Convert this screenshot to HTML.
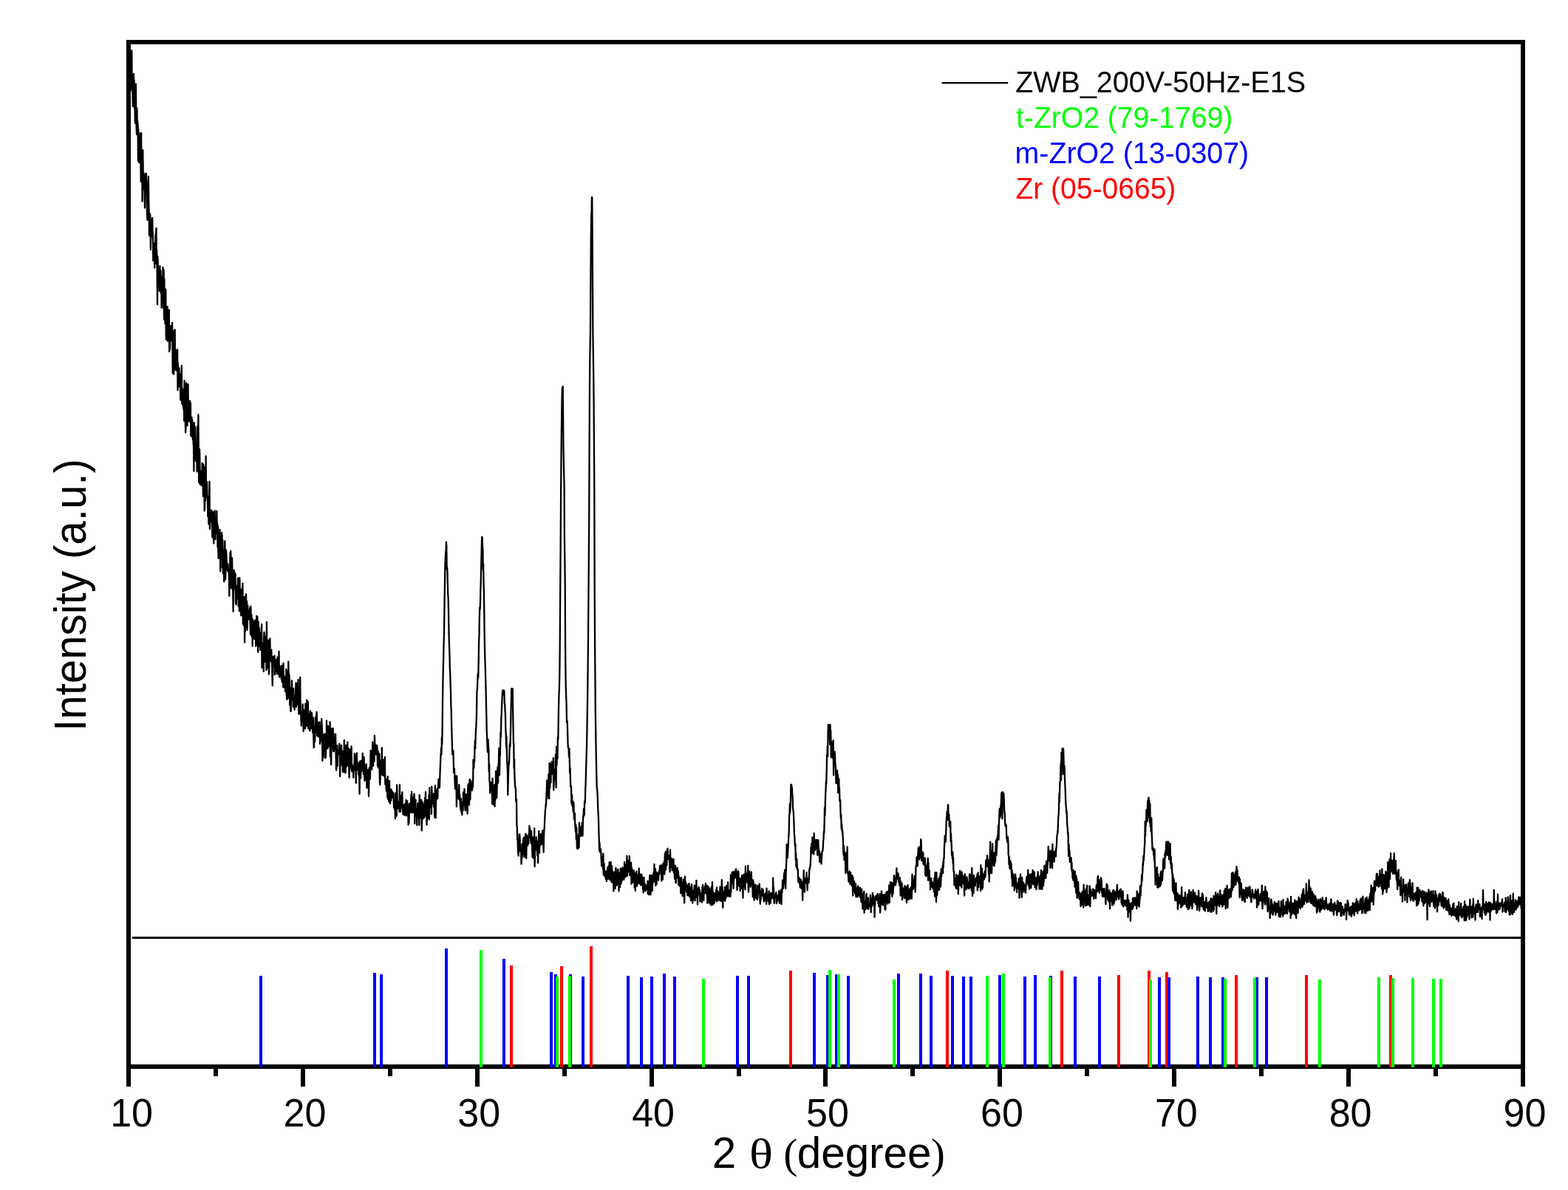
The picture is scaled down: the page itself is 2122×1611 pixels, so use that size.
<!DOCTYPE html>
<html lang="en">
<head>
<meta charset="utf-8">
<title>XRD pattern - ZWB_200V-50Hz-E1S</title>
<style>
html, body { margin: 0; padding: 0; background: #ffffff; }
body { width: 2122px; height: 1611px; overflow: hidden; }
svg { display: block; }
text { font-family: "Liberation Sans", Arial, Helvetica, sans-serif; }
text.sym { font-family: "Liberation Serif", "Times New Roman", serif; }
</style>
</head>
<body>
<svg width="2122" height="1611" viewBox="0 0 2122 1611" role="img" aria-label="XRD pattern of ZWB_200V-50Hz-E1S with reference patterns">
<rect x="0" y="0" width="2122" height="1611" fill="#ffffff"/>
<defs><clipPath id="plotclip"><rect x="174.0" y="57.0" width="1887.0" height="1392.0"/></clipPath></defs>
<g clip-path="url(#plotclip)">
<path id="trace" fill="none" stroke="#000000" stroke-width="2.3" stroke-linejoin="round" stroke-linecap="butt" shape-rendering="auto" d="M174.1 68.5L174.5 73.3L174.9 68.5L175.2 68.5L175.6 72.1L176.0 68.5L176.4 91.9L176.7 122.9L177.1 89.3L177.5 91.0L177.9 118.6L178.3 68.5L178.6 119.0L179.0 101.0L179.4 124.3
L179.8 143.9L180.1 104.0L180.5 127.0L180.9 99.9L181.3 116.9L181.6 108.7L182.0 147.2L182.4 128.4L182.8 165.6L183.2 166.7L183.5 162.6L183.9 113.7L184.3 161.1L184.7 175.3L185.0 182.0
L185.4 146.6L185.8 173.7L186.2 164.3L186.6 170.6L186.9 217.5L187.3 175.1L187.7 195.9L188.1 220.0L188.4 186.9L188.8 200.4L189.2 207.8L189.6 208.9L189.9 180.4L190.3 213.6L190.7 246.1
L191.1 180.2L191.5 239.0L191.8 224.0L192.2 208.7L192.6 272.7L193.0 246.2L193.3 203.2L193.7 235.2L194.1 249.2L194.5 234.1L194.9 256.6L195.2 241.9L195.6 261.2L196.0 281.4L196.4 235.7
L196.7 258.3L197.1 245.8L197.5 261.8L197.9 234.9L198.3 251.3L198.6 262.6L199.0 289.8L199.4 298.0L199.8 245.6L200.1 260.1L200.5 294.9L200.9 238.8L201.3 275.5L201.6 286.3L202.0 319.1
L202.4 309.1L202.8 289.1L203.2 290.8L203.5 296.0L203.9 338.0L204.3 297.3L204.7 302.7L205.0 319.8L205.4 311.9L205.8 312.7L206.2 295.0L206.6 321.9L206.9 314.9L207.3 352.9L207.7 344.0
L208.1 331.5L208.4 349.3L208.8 329.5L209.2 362.6L209.6 341.7L210.0 357.1L210.3 318.2L210.7 356.7L211.1 314.3L211.5 309.0L211.8 349.4L212.2 338.6L212.6 364.3L213.0 412.3L213.3 347.0
L213.7 353.8L214.1 374.2L214.5 382.7L214.9 370.3L215.2 371.8L215.6 393.9L216.0 392.1L216.4 360.2L216.7 383.2L217.1 387.8L217.5 366.1L217.9 397.0L218.3 374.6L218.6 416.7L219.0 401.7
L219.4 401.5L219.8 388.7L220.1 401.0L220.5 362.0L220.9 382.9L221.3 417.5L221.6 365.2L222.0 431.9L222.4 377.4L222.8 433.8L223.2 400.9L223.5 438.1L223.9 426.0L224.3 391.7L224.7 454.0
L225.0 460.0L225.4 429.2L225.8 426.6L226.2 430.9L226.6 415.1L226.9 461.8L227.3 428.2L227.7 440.6L228.1 426.4L228.4 431.8L228.8 419.6L229.2 475.9L229.6 447.4L230.0 473.2L230.3 454.5
L230.7 441.1L231.1 450.8L231.5 447.5L231.8 461.4L232.2 455.0L232.6 458.3L233.0 437.0L233.3 451.0L233.7 505.2L234.1 457.3L234.5 450.9L234.9 482.2L235.2 506.7L235.6 447.6L236.0 475.7
L236.4 468.5L236.7 446.3L237.1 500.8L237.5 486.4L237.9 490.1L238.3 474.4L238.6 501.5L239.0 482.3L239.4 492.3L239.8 473.7L240.1 473.2L240.5 528.3L240.9 491.4L241.3 509.8L241.7 504.7
L242.0 497.8L242.4 498.1L242.8 523.5L243.2 505.8L243.5 510.6L243.9 515.9L244.3 541.5L244.7 532.8L245.0 528.3L245.4 510.4L245.8 495.2L246.2 545.0L246.6 547.0L246.9 525.9L247.3 541.7
L247.7 548.2L248.1 550.9L248.4 554.5L248.8 528.0L249.2 569.9L249.6 515.2L250.0 559.9L250.3 554.1L250.7 563.5L251.1 585.6L251.5 579.2L251.8 527.6L252.2 518.3L252.6 570.7L253.0 535.4
L253.3 557.3L253.7 576.2L254.1 527.9L254.5 520.2L254.9 569.6L255.2 567.0L255.6 562.8L256.0 570.2L256.4 553.9L256.7 542.6L257.1 571.2L257.5 556.8L257.9 545.2L258.3 589.6L258.6 580.0
L259.0 591.0L259.4 565.0L259.8 573.3L260.1 568.2L260.5 572.1L260.9 595.2L261.3 577.6L261.7 601.7L262.0 603.0L262.4 637.8L262.8 572.3L263.2 618.7L263.5 601.2L263.9 604.4L264.3 578.0
L264.7 599.0L265.0 624.1L265.4 609.7L265.8 614.5L266.2 608.9L266.6 638.6L266.9 617.4L267.3 576.8L267.7 607.7L268.1 584.6L268.4 561.5L268.8 615.7L269.2 653.3L269.6 630.1L270.0 608.2
L270.3 614.3L270.7 655.7L271.1 638.6L271.5 638.1L271.8 637.8L272.2 641.1L272.6 657.3L273.0 654.1L273.4 649.2L273.7 626.8L274.1 657.9L274.5 636.7L274.9 672.1L275.2 628.7L275.6 651.8
L276.0 655.8L276.4 632.4L276.7 691.5L277.1 688.1L277.5 653.3L277.9 678.1L278.3 672.2L278.6 617.4L279.0 672.7L279.4 668.4L279.8 672.6L280.1 652.3L280.5 668.9L280.9 672.1L281.3 699.1
L281.7 684.6L282.0 679.7L282.4 709.7L282.8 672.3L283.2 676.9L283.5 651.8L283.9 716.1L284.3 706.3L284.7 706.8L285.0 703.6L285.4 694.6L285.8 698.0L286.2 690.7L286.6 693.0L286.9 699.2
L287.3 727.3L287.7 711.1L288.1 701.2L288.4 693.0L288.8 693.3L289.2 735.7L289.6 717.0L290.0 710.3L290.3 704.0L290.7 691.5L291.1 711.8L291.5 730.2L291.8 708.5L292.2 712.8L292.6 714.3
L293.0 721.6L293.4 692.0L293.7 717.9L294.1 708.0L294.5 740.7L294.9 712.1L295.2 737.7L295.6 756.0L296.0 724.2L296.4 720.2L296.7 735.7L297.1 733.5L297.5 717.0L297.9 744.3L298.3 773.4
L298.6 733.9L299.0 736.1L299.4 722.3L299.8 747.8L300.1 721.1L300.5 724.8L300.9 768.5L301.3 730.9L301.7 767.3L302.0 776.4L302.4 755.1L302.8 761.5L303.2 787.4L303.5 750.5L303.9 744.7
L304.3 732.5L304.7 758.2L305.1 784.7L305.4 776.7L305.8 744.4L306.2 747.0L306.6 754.3L306.9 769.4L307.3 761.8L307.7 770.3L308.1 772.9L308.4 763.6L308.8 769.2L309.2 774.6L309.6 770.6
L310.0 781.9L310.3 806.8L310.7 785.6L311.1 777.4L311.5 748.2L311.8 785.3L312.2 745.9L312.6 756.3L313.0 796.5L313.4 795.0L313.7 781.2L314.1 755.4L314.5 779.5L314.9 775.3L315.2 798.9
L315.6 827.8L316.0 793.7L316.4 777.7L316.7 772.0L317.1 792.1L317.5 791.0L317.9 775.4L318.3 798.1L318.6 777.4L319.0 817.0L319.4 817.1L319.8 818.5L320.1 792.9L320.5 810.7L320.9 800.7
L321.3 797.3L321.7 799.1L322.0 783.8L322.4 782.3L322.8 821.1L323.2 805.4L323.5 813.3L323.9 827.4L324.3 782.3L324.7 799.2L325.1 816.3L325.4 820.8L325.8 808.8L326.2 833.3L326.6 820.5
L326.9 797.6L327.3 803.2L327.7 833.2L328.1 828.3L328.4 789.8L328.8 844.8L329.2 833.2L329.6 846.5L330.0 818.6L330.3 821.0L330.7 808.0L331.1 869.7L331.5 825.6L331.8 855.6L332.2 819.5
L332.6 833.7L333.0 804.3L333.4 826.4L333.7 849.8L334.1 813.8L334.5 852.9L334.9 841.6L335.2 819.7L335.6 829.5L336.0 831.0L336.4 838.5L336.8 831.4L337.1 827.4L337.5 836.8L337.9 825.8
L338.3 822.3L338.6 843.4L339.0 859.3L339.4 820.8L339.8 846.6L340.1 836.7L340.5 832.2L340.9 862.7L341.3 841.2L341.7 874.7L342.0 838.5L342.4 858.2L342.8 849.0L343.2 841.3L343.5 863.7
L343.9 852.5L344.3 865.4L344.7 855.7L345.1 839.7L345.4 856.3L345.8 859.5L346.2 874.8L346.6 845.6L346.9 860.2L347.3 834.0L347.7 872.8L348.1 845.7L348.4 834.9L348.8 863.5L349.2 882.9
L349.6 841.6L350.0 849.3L350.3 855.5L350.7 850.1L351.1 874.8L351.5 856.6L351.8 858.7L352.2 880.1L352.6 859.5L353.0 879.1L353.4 857.5L353.7 854.4L354.1 845.2L354.5 904.3L354.9 870.6
L355.2 880.1L355.6 876.5L356.0 880.2L356.4 879.1L356.8 909.0L357.1 863.3L357.5 855.9L357.9 865.1L358.3 860.7L358.6 894.0L359.0 895.8L359.4 868.6L359.8 862.5L360.1 879.4L360.5 907.3
L360.9 842.2L361.3 895.1L361.7 870.7L362.0 904.3L362.4 872.0L362.8 885.0L363.2 866.7L363.5 875.5L363.9 912.8L364.3 904.7L364.7 886.4L365.1 879.7L365.4 864.5L365.8 888.4L366.2 894.6
L366.6 894.4L366.9 894.9L367.3 879.7L367.7 896.5L368.1 897.6L368.5 918.6L368.8 928.1L369.2 897.9L369.6 888.9L370.0 900.2L370.3 892.5L370.7 891.1L371.1 902.2L371.5 887.7L371.8 913.5
L372.2 903.3L372.6 909.3L373.0 903.3L373.4 895.6L373.7 892.9L374.1 904.3L374.5 900.1L374.9 912.6L375.2 909.6L375.6 889.6L376.0 911.9L376.4 891.1L376.8 902.7L377.1 908.2L377.5 881.9
L377.9 915.2L378.3 916.7L378.6 912.6L379.0 909.2L379.4 910.6L379.8 902.1L380.1 913.3L380.5 909.6L380.9 919.9L381.3 901.1L381.7 923.2L382.0 922.4L382.4 918.7L382.8 914.9L383.2 930.3
L383.5 897.8L383.9 930.0L384.3 927.4L384.7 928.6L385.1 930.6L385.4 915.8L385.8 922.2L386.2 936.1L386.6 933.6L386.9 930.9L387.3 906.0L387.7 936.9L388.1 946.8L388.5 945.0L388.8 934.1
L389.2 908.3L389.6 945.7L390.0 930.2L390.3 895.7L390.7 939.1L391.1 912.2L391.5 915.6L391.8 925.9L392.2 954.5L392.6 930.9L393.0 940.9L393.4 963.1L393.7 961.4L394.1 937.1L394.5 935.7
L394.9 921.4L395.2 930.2L395.6 947.1L396.0 947.2L396.4 943.6L396.8 957.0L397.1 931.9L397.5 942.8L397.9 954.8L398.3 953.2L398.6 960.8L399.0 951.6L399.4 942.0L399.8 952.2L400.2 933.1
L400.5 924.5L400.9 957.0L401.3 948.4L401.7 954.2L402.0 925.9L402.4 945.6L402.8 942.8L403.2 939.5L403.5 920.2L403.9 948.2L404.3 966.4L404.7 959.5L405.1 946.0L405.4 954.9L405.8 966.5
L406.2 916.9L406.6 955.0L406.9 965.0L407.3 967.5L407.7 982.5L408.1 975.0L408.5 963.9L408.8 964.2L409.2 971.6L409.6 953.4L410.0 961.0L410.3 974.9L410.7 990.2L411.1 960.9L411.5 963.0
L411.8 967.0L412.2 983.6L412.6 964.8L413.0 986.4L413.4 952.7L413.7 964.2L414.1 964.5L414.5 978.8L414.9 983.0L415.2 947.7L415.6 956.6L416.0 974.6L416.4 961.2L416.8 949.7L417.1 985.9
L417.5 978.8L417.9 979.3L418.3 966.3L418.6 987.7L419.0 970.6L419.4 989.6L419.8 962.3L420.2 963.6L420.5 978.8L420.9 966.7L421.3 986.3L421.7 981.0L422.0 965.2L422.4 979.4L422.8 974.1
L423.2 992.0L423.5 971.2L423.9 974.4L424.3 997.5L424.7 1012.1L425.1 1009.3L425.4 983.2L425.8 985.8L426.2 1004.3L426.6 982.1L426.9 971.0L427.3 986.4L427.7 991.4L428.1 974.4
L428.5 963.8L428.8 967.1L429.2 996.2L429.6 977.3L430.0 986.2L430.3 991.5L430.7 997.4L431.1 985.0L431.5 996.7L431.9 978.4L432.2 986.0L432.6 977.5L433.0 1007.1L433.4 991.9
L433.7 982.8L434.1 988.5L434.5 990.7L434.9 1003.6L435.2 973.1L435.6 981.1L436.0 990.4L436.4 1029.9L436.8 1009.2L437.1 995.4L437.5 1006.8L437.9 1025.3L438.3 995.1L438.6 993.7
L439.0 1015.2L439.4 1006.1L439.8 1008.9L440.2 993.6L440.5 1026.4L440.9 1024.0L441.3 1009.2L441.7 1011.2L442.0 975.7L442.4 1011.5L442.8 1000.9L443.2 1009.6L443.5 1013.3L443.9 1000.2
L444.3 982.8L444.7 1010.4L445.1 996.2L445.4 1002.1L445.8 998.9L446.2 1002.7L446.6 977.3L446.9 1024.1L447.3 1011.8L447.7 1023.5L448.1 1035.3L448.5 1010.0L448.8 986.5L449.2 998.8
L449.6 995.1L450.0 1004.8L450.3 1012.8L450.7 986.0L451.1 1017.0L451.5 993.2L451.9 1017.2L452.2 1012.3L452.6 1010.0L453.0 1013.6L453.4 1007.9L453.7 1007.3L454.1 993.8L454.5 1015.7
L454.9 1040.4L455.2 1042.5L455.6 1034.3L456.0 1026.7L456.4 1009.2L456.8 1037.0L457.1 1018.0L457.5 1018.2L457.9 1015.7L458.3 1021.0L458.6 1014.6L459.0 1019.5L459.4 1007.0
L459.8 1016.5L460.2 1051.0L460.5 1021.2L460.9 1019.3L461.3 1029.6L461.7 1032.2L462.0 1009.2L462.4 1021.2L462.8 1035.9L463.2 1028.0L463.6 1026.4L463.9 1045.1L464.3 1016.9
L464.7 1027.0L465.1 1019.6L465.4 1045.6L465.8 1002.1L466.2 1018.8L466.6 1020.9L466.9 1036.4L467.3 1036.0L467.7 1046.3L468.1 1009.0L468.5 1038.8L468.8 1025.9L469.2 1021.5
L469.6 1037.1L470.0 1018.9L470.3 1004.6L470.7 1026.5L471.1 1012.6L471.5 1023.7L471.9 1036.8L472.2 1036.4L472.6 1052.8L473.0 1030.6L473.4 1014.1L473.7 1024.2L474.1 1022.4
L474.5 1019.0L474.9 1040.1L475.2 1026.8L475.6 1010.4L476.0 1044.2L476.4 1034.4L476.8 1040.5L477.1 1037.7L477.5 1044.5L477.9 1037.4L478.3 1052.7L478.6 1042.8L479.0 1042.7
L479.4 1043.2L479.8 1020.2L480.2 1036.6L480.5 1035.6L480.9 1041.7L481.3 1022.5L481.7 1060.0L482.0 1041.2L482.4 1025.2L482.8 1019.3L483.2 1037.2L483.6 1039.9L483.9 1032.3
L484.3 1042.6L484.7 1033.8L485.1 1048.8L485.4 1033.3L485.8 1042.0L486.2 1054.8L486.6 1074.8L486.9 1030.8L487.3 1037.7L487.7 1033.3L488.1 1053.6L488.5 1030.0L488.8 1038.4
L489.2 1044.3L489.6 1032.8L490.0 1033.3L490.3 1039.5L490.7 1019.7L491.1 1028.0L491.5 1040.9L491.9 1048.0L492.2 1044.1L492.6 1024.9L493.0 1041.2L493.4 1056.9L493.7 1054.2
L494.1 1046.6L494.5 1037.0L494.9 1055.9L495.3 1041.3L495.6 1034.3L496.0 1039.0L496.4 1066.7L496.8 1051.9L497.1 1063.5L497.5 1043.5L497.9 1060.9L498.3 1042.0L498.6 1046.9
L499.0 1078.0L499.4 1056.0L499.8 1039.5L500.2 1042.8L500.5 1046.0L500.9 1054.6L501.3 1032.6L501.7 1015.8L502.0 1031.5L502.4 1032.8L502.8 1031.3L503.2 1041.7L503.6 1027.3
L503.9 1029.5L504.3 1004.7L504.7 1024.2L505.1 1036.8L505.4 1019.0L505.8 1011.0L506.2 1009.1L506.6 1030.7L506.9 995.7L507.3 1007.4L507.7 1016.1L508.1 1021.3L508.5 1008.5
L508.8 1019.7L509.2 1014.5L509.6 1021.4L510.0 1020.1L510.3 1009.3L510.7 1024.6L511.1 1037.2L511.5 1016.3L511.9 1026.8L512.2 1039.5L512.6 1019.3L513.0 1035.8L513.4 1020.6
L513.7 1048.2L514.1 1062.4L514.5 1058.0L514.9 1029.1L515.3 1040.1L515.6 1031.5L516.0 1030.7L516.4 1048.7L516.8 1012.4L517.1 1043.0L517.5 1030.3L517.9 1049.5L518.3 1036.5
L518.6 1028.4L519.0 1041.8L519.4 1049.4L519.8 1043.6L520.2 1051.1L520.5 1041.6L520.9 1024.8L521.3 1061.8L521.7 1061.3L522.0 1056.8L522.4 1057.9L522.8 1070.8L523.2 1055.7
L523.6 1054.6L523.9 1062.2L524.3 1079.5L524.7 1051.1L525.1 1082.0L525.4 1061.7L525.8 1057.2L526.2 1085.3L526.6 1070.3L527.0 1057.1L527.3 1068.7L527.7 1084.2L528.1 1087.8
L528.5 1069.7L528.8 1079.8L529.2 1083.9L529.6 1068.7L530.0 1080.7L530.3 1076.8L530.7 1071.5L531.1 1072.5L531.5 1079.4L531.9 1079.4L532.2 1073.1L532.6 1075.2L533.0 1093.2
L533.4 1083.3L533.7 1091.4L534.1 1095.4L534.5 1088.9L534.9 1108.3L535.3 1073.6L535.6 1092.5L536.0 1080.1L536.4 1105.0L536.8 1103.6L537.1 1062.6L537.5 1074.1L537.9 1092.8
L538.3 1094.5L538.6 1094.2L539.0 1085.4L539.4 1091.6L539.8 1094.2L540.2 1086.2L540.5 1098.9L540.9 1062.3L541.3 1095.0L541.7 1076.6L542.0 1099.2L542.4 1086.2L542.8 1079.0
L543.2 1093.4L543.6 1079.3L543.9 1079.5L544.3 1072.4L544.7 1089.9L545.1 1096.0L545.4 1102.1L545.8 1089.3L546.2 1102.8L546.6 1091.5L547.0 1090.5L547.3 1098.1L547.7 1103.7
L548.1 1088.3L548.5 1089.6L548.8 1090.7L549.2 1093.6L549.6 1082.8L550.0 1104.4L550.3 1088.7L550.7 1098.5L551.1 1084.3L551.5 1097.6L551.9 1098.2L552.2 1089.4L552.6 1116.5
L553.0 1098.5L553.4 1114.2L553.7 1105.3L554.1 1087.6L554.5 1090.8L554.9 1100.0L555.3 1096.1L555.6 1096.1L556.0 1092.6L556.4 1076.0L556.8 1093.6L557.1 1071.8L557.5 1100.4
L557.9 1088.5L558.3 1088.8L558.7 1094.3L559.0 1099.9L559.4 1081.3L559.8 1077.9L560.2 1085.5L560.5 1074.9L560.9 1086.8L561.3 1115.0L561.7 1086.0L562.0 1104.8L562.4 1082.7
L562.8 1101.1L563.2 1094.4L563.6 1097.3L563.9 1104.2L564.3 1117.2L564.7 1100.1L565.1 1099.4L565.4 1087.3L565.8 1104.4L566.2 1095.3L566.6 1107.1L567.0 1097.5L567.3 1117.0
L567.7 1076.2L568.1 1094.6L568.5 1107.5L568.8 1094.0L569.2 1089.1L569.6 1094.9L570.0 1082.6L570.3 1099.0L570.7 1124.4L571.1 1110.2L571.5 1085.4L571.9 1087.9L572.2 1093.0
L572.6 1108.4L573.0 1088.3L573.4 1089.7L573.7 1106.9L574.1 1106.7L574.5 1093.0L574.9 1084.7L575.3 1079.9L575.6 1089.2L576.0 1072.2L576.4 1104.8L576.8 1089.5L577.1 1101.5
L577.5 1116.6L577.9 1108.7L578.3 1082.8L578.7 1104.8L579.0 1107.7L579.4 1086.4L579.8 1083.8L580.2 1092.8L580.5 1076.0L580.9 1109.6L581.3 1066.3L581.7 1080.4L582.0 1089.3
L582.4 1089.3L582.8 1093.1L583.2 1093.7L583.6 1087.7L583.9 1102.1L584.3 1064.9L584.7 1088.0L585.1 1079.3L585.4 1087.9L585.8 1088.1L586.2 1074.7L586.6 1076.9L587.0 1092.3
L587.3 1086.6L587.7 1074.2L588.1 1104.4L588.5 1106.8L588.8 1063.3L589.2 1082.8L589.6 1107.3L590.0 1086.9L590.4 1079.8L590.7 1074.1L591.1 1069.4L591.5 1072.2L591.9 1067.3
L592.2 1081.1L592.6 1066.9L593.0 1065.1L593.4 1055.0L593.7 1066.3L594.1 1054.9L594.5 1060.3L594.9 1066.4L595.3 1052.6L595.6 1043.8L596.0 1033.9L596.4 1024.7L596.8 1018.1
L597.1 1012.6L597.5 1021.2L597.9 998.6L598.3 1007.3L598.7 982.4L599.0 946.9L599.4 924.1L599.8 903.9L600.2 890.1L600.5 872.5L600.9 860.9L601.3 833.6L601.7 806.2L602.0 788.2
L602.4 764.3L602.8 755.6L603.2 748.3L603.6 744.6L603.9 733.6L604.3 740.8L604.7 770.9L605.1 768.4L605.4 772.9L605.8 789.5L606.2 804.6L606.6 808.5L607.0 826.6L607.3 846.4L607.7 865.3
L608.1 877.6L608.5 888.5L608.8 905.1L609.2 910.1L609.6 925.8L610.0 937.0L610.4 957.6L610.7 960.5L611.1 980.3L611.5 995.2L611.9 1008.4L612.2 1021.2L612.6 1015.4L613.0 1018.4
L613.4 1016.4L613.7 1027.6L614.1 1046.0L614.5 1046.0L614.9 1040.3L615.3 1050.9L615.6 1059.1L616.0 1067.9L616.4 1059.9L616.8 1065.8L617.1 1050.3L617.5 1059.4L617.9 1092.1
L618.3 1050.6L618.7 1072.7L619.0 1080.2L619.4 1074.5L619.8 1070.6L620.2 1080.1L620.5 1081.6L620.9 1081.7L621.3 1062.3L621.7 1082.5L622.1 1075.2L622.4 1079.2L622.8 1088.4
L623.2 1093.4L623.6 1096.5L623.9 1081.1L624.3 1097.3L624.7 1100.3L625.1 1100.1L625.4 1103.2L625.8 1086.1L626.2 1085.9L626.6 1097.2L627.0 1072.6L627.3 1090.4L627.7 1082.0
L628.1 1083.7L628.5 1068.1L628.8 1077.3L629.2 1086.7L629.6 1096.5L630.0 1097.2L630.4 1084.7L630.7 1082.9L631.1 1075.1L631.5 1088.4L631.9 1080.4L632.2 1089.4L632.6 1101.6
L633.0 1080.5L633.4 1063.0L633.7 1069.1L634.1 1061.2L634.5 1062.8L634.9 1089.7L635.3 1076.1L635.6 1055.0L636.0 1077.6L636.4 1082.5L636.8 1062.5L637.1 1056.9L637.5 1058.6
L637.9 1063.6L638.3 1065.7L638.7 1070.1L639.0 1068.6L639.4 1066.2L639.8 1065.8L640.2 1055.3L640.5 1028.6L640.9 1040.3L641.3 1039.6L641.7 1027.7L642.1 1030.7L642.4 1014.1
L642.8 1002.7L643.2 1013.3L643.6 999.8L643.9 988.6L644.3 984.9L644.7 976.3L645.1 961.7L645.4 935.6L645.8 934.7L646.2 926.0L646.6 912.5L647.0 917.7L647.3 916.4L647.7 894.3
L648.1 867.8L648.5 861.2L648.8 838.6L649.2 822.8L649.6 824.9L650.0 815.7L650.4 797.3L650.7 789.8L651.1 769.4L651.5 752.9L651.9 736.8L652.2 727.1L652.6 727.1L653.0 739.4L653.4 743.3
L653.7 771.6L654.1 763.4L654.5 787.1L654.9 801.3L655.3 828.2L655.6 856.8L656.0 876.7L656.4 893.7L656.8 904.9L657.1 917.1L657.5 932.6L657.9 951.3L658.3 968.6L658.7 988.7L659.0 994.9
L659.4 1007.8L659.8 1018.0L660.2 1009.7L660.5 1001.1L660.9 1010.0L661.3 1014.4L661.7 1044.4L662.1 1034.3L662.4 1057.9L662.8 1058.0L663.2 1073.7L663.6 1068.8L663.9 1058.6
L664.3 1059.4L664.7 1064.3L665.1 1067.0L665.4 1060.9L665.8 1068.4L666.2 1088.6L666.6 1053.6L667.0 1077.1L667.3 1066.2L667.7 1080.1L668.1 1089.1L668.5 1080.1L668.8 1089.8
L669.2 1062.4L669.6 1091.8L670.0 1071.3L670.4 1083.0L670.7 1076.1L671.1 1043.9L671.5 1061.4L671.9 1069.5L672.2 1080.1L672.6 1063.3L673.0 1058.7L673.4 1038.6L673.8 1060.1
L674.1 1059.3L674.5 1037.9L674.9 1031.3L675.3 1012.8L675.6 1035.1L676.0 1049.3L676.4 1024.3L676.8 1023.3L677.1 1009.9L677.5 991.3L677.9 997.5L678.3 972.8L678.7 967.8L679.0 959.0
L679.4 948.5L679.8 939.2L680.2 934.6L680.5 934.6L680.9 934.6L681.3 940.5L681.7 934.6L682.1 934.6L682.4 936.9L682.8 952.8L683.2 952.9L683.6 963.2L683.9 964.7L684.3 987.0L684.7 994.3
L685.1 1012.0L685.4 996.8L685.8 1012.8L686.2 1031.4L686.6 1035.7L687.0 1046.6L687.3 1076.0L687.7 1058.0L688.1 1044.9L688.5 1031.8L688.8 1035.2L689.2 1029.7L689.6 1010.1
L690.0 1007.2L690.4 1011.0L690.7 1001.4L691.1 985.1L691.5 961.8L691.9 949.5L692.2 932.1L692.6 932.1L693.0 938.1L693.4 932.1L693.8 933.2L694.1 958.2L694.5 982.7L694.9 1006.7
L695.3 1005.6L695.6 1039.9L696.0 1028.0L696.4 1049.3L696.8 1059.1L697.1 1064.7L697.5 1067.0L697.9 1066.8L698.3 1085.6L698.7 1084.8L699.0 1082.3L699.4 1117.3L699.8 1119.9
L700.2 1137.1L700.5 1129.0L700.9 1151.5L701.3 1156.1L701.7 1158.6L702.1 1146.2L702.4 1136.6L702.8 1147.3L703.2 1129.5L703.6 1135.0L703.9 1152.4L704.3 1142.7L704.7 1150.4
L705.1 1150.8L705.5 1169.7L705.8 1163.3L706.2 1150.3L706.6 1161.5L707.0 1142.2L707.3 1145.8L707.7 1157.0L708.1 1136.1L708.5 1144.6L708.8 1134.0L709.2 1146.8L709.6 1160.4
L710.0 1136.8L710.4 1145.2L710.7 1133.6L711.1 1130.3L711.5 1128.6L711.9 1153.8L712.2 1162.0L712.6 1143.2L713.0 1131.0L713.4 1144.5L713.8 1133.9L714.1 1144.7L714.5 1139.4
L714.9 1138.9L715.3 1141.9L715.6 1129.9L716.0 1131.4L716.4 1118.1L716.8 1130.7L717.1 1120.9L717.5 1133.6L717.9 1126.1L718.3 1137.3L718.7 1141.7L719.0 1125.0L719.4 1132.3
L719.8 1132.6L720.2 1149.9L720.5 1160.3L720.9 1153.6L721.3 1143.4L721.7 1161.3L722.1 1133.5L722.4 1162.3L722.8 1141.7L723.2 1121.5L723.6 1173.1L723.9 1162.9L724.3 1138.0
L724.7 1149.3L725.1 1145.6L725.5 1148.5L725.8 1133.3L726.2 1140.8L726.6 1151.6L727.0 1149.1L727.3 1158.2L727.7 1147.1L728.1 1168.1L728.5 1138.3L728.8 1146.8L729.2 1125.2
L729.6 1130.7L730.0 1154.8L730.4 1132.3L730.7 1145.8L731.1 1139.4L731.5 1129.2L731.9 1135.2L732.2 1132.8L732.6 1132.2L733.0 1143.4L733.4 1141.5L733.8 1128.5L734.1 1124.3
L734.5 1134.9L734.9 1129.9L735.3 1139.6L735.6 1153.8L736.0 1134.3L736.4 1123.8L736.8 1119.8L737.2 1110.1L737.5 1104.2L737.9 1097.0L738.3 1094.5L738.7 1088.3L739.0 1090.1
L739.4 1075.4L739.8 1070.9L740.2 1056.4L740.5 1081.0L740.9 1066.3L741.3 1077.2L741.7 1064.1L742.1 1069.9L742.4 1048.1L742.8 1058.1L743.2 1081.2L743.6 1032.8L743.9 1061.0
L744.3 1066.6L744.7 1050.3L745.1 1053.8L745.5 1059.6L745.8 1035.0L746.2 1048.0L746.6 1031.5L747.0 1033.7L747.3 1034.2L747.7 1040.2L748.1 1044.1L748.5 1048.6L748.8 1026.2
L749.2 1069.5L749.6 1060.2L750.0 1055.6L750.4 1042.5L750.7 1045.6L751.1 1051.9L751.5 1047.8L751.9 1021.2L752.2 1045.4L752.6 1066.2L753.0 1010.8L753.4 1036.2L753.8 1025.3
L754.1 1016.1L754.5 1027.2L754.9 998.0L755.3 1000.9L755.6 985.0L756.0 959.4L756.4 942.8L756.8 933.1L757.2 917.5L757.5 899.1L757.9 847.0L758.3 788.2L758.7 732.7L759.0 681.9
L759.4 632.9L759.8 590.7L760.2 562.8L760.5 539.0L760.9 525.3L761.3 551.3L761.7 523.1L762.1 560.4L762.4 601.0L762.8 623.1L763.2 641.0L763.6 658.1L763.9 724.6L764.3 754.4L764.7 787.1
L765.1 876.6L765.5 916.9L765.8 931.5L766.2 943.7L766.6 952.8L767.0 977.8L767.3 975.5L767.7 976.7L768.1 989.2L768.5 1006.0L768.9 1012.7L769.2 1012.6L769.6 1013.3L770.0 1025.0
L770.4 1013.4L770.7 1021.7L771.1 1046.8L771.5 1039.2L771.9 1052.1L772.2 1064.7L772.6 1064.6L773.0 1064.2L773.4 1087.8L773.8 1080.2L774.1 1076.0L774.5 1090.4L774.9 1091.9
L775.3 1084.7L775.6 1097.3L776.0 1099.2L776.4 1086.4L776.8 1106.5L777.2 1108.7L777.5 1110.0L777.9 1101.0L778.3 1116.2L778.7 1122.0L779.0 1126.0L779.4 1116.7L779.8 1136.1
L780.2 1120.4L780.5 1131.9L780.9 1148.6L781.3 1130.2L781.7 1132.8L782.1 1149.2L782.4 1134.5L782.8 1135.1L783.2 1139.8L783.6 1147.5L783.9 1114.0L784.3 1126.9L784.7 1124.0
L785.1 1122.1L785.5 1123.2L785.8 1122.1L786.2 1132.3L786.6 1118.8L787.0 1126.9L787.3 1127.3L787.7 1113.9L788.1 1119.7L788.5 1131.5L788.9 1116.0L789.2 1103.8L789.6 1106.3
L790.0 1095.0L790.4 1102.5L790.7 1103.6L791.1 1084.4L791.5 1084.5L791.9 1086.4L792.2 1068.1L792.6 1061.2L793.0 1045.1L793.4 1032.4L793.8 1016.9L794.1 1007.8L794.5 984.3L794.9 961.1
L795.3 931.4L795.6 904.7L796.0 864.6L796.4 813.7L796.8 763.9L797.2 707.6L797.5 636.8L797.9 541.2L798.3 486.3L798.7 465.3L799.0 445.2L799.4 379.1L799.8 320.2L800.2 289.6L800.6 288.9
L800.9 267.1L801.3 267.1L801.7 316.1L802.1 399.1L802.4 454.0L802.8 477.8L803.2 506.9L803.6 545.6L803.9 592.5L804.3 655.0L804.7 800.5L805.1 870.8L805.5 920.5L805.8 961.8L806.2 988.1
L806.6 1013.9L807.0 1034.7L807.3 1049.4L807.7 1066.5L808.1 1066.9L808.5 1073.6L808.9 1082.7L809.2 1094.2L809.6 1101.0L810.0 1109.1L810.4 1126.9L810.7 1134.9L811.1 1151.6
L811.5 1141.0L811.9 1149.8L812.2 1154.2L812.6 1149.6L813.0 1149.6L813.4 1154.5L813.8 1164.7L814.1 1171.4L814.5 1172.6L814.9 1160.4L815.3 1163.3L815.6 1163.3L816.0 1176.1
L816.4 1155.6L816.8 1184.6L817.2 1170.6L817.5 1168.8L817.9 1179.1L818.3 1185.6L818.7 1180.4L819.0 1187.0L819.4 1179.9L819.8 1189.7L820.2 1190.4L820.6 1179.6L820.9 1193.1
L821.3 1182.9L821.7 1182.8L822.1 1174.9L822.4 1180.6L822.8 1189.9L823.2 1173.0L823.6 1189.7L823.9 1187.5L824.3 1187.3L824.7 1167.1L825.1 1184.8L825.5 1191.3L825.8 1179.9
L826.2 1187.2L826.6 1167.1L827.0 1192.3L827.3 1181.6L827.7 1194.3L828.1 1172.3L828.5 1193.2L828.9 1185.7L829.2 1194.4L829.6 1180.4L830.0 1183.1L830.4 1206.5L830.7 1181.6
L831.1 1182.7L831.5 1186.3L831.9 1180.4L832.3 1198.5L832.6 1202.9L833.0 1183.2L833.4 1174.9L833.8 1198.5L834.1 1198.0L834.5 1195.7L834.9 1198.3L835.3 1181.8L835.6 1187.4
L836.0 1177.3L836.4 1176.8L836.8 1196.1L837.2 1182.4L837.5 1206.3L837.9 1188.0L838.3 1181.8L838.7 1193.3L839.0 1201.2L839.4 1190.1L839.8 1175.7L840.2 1188.4L840.6 1196.4
L840.9 1180.6L841.3 1178.0L841.7 1192.5L842.1 1184.9L842.4 1174.3L842.8 1179.9L843.2 1176.3L843.6 1184.7L843.9 1182.6L844.3 1190.9L844.7 1186.7L845.1 1167.1L845.5 1183.3
L845.8 1186.9L846.2 1182.8L846.6 1187.3L847.0 1173.5L847.3 1169.7L847.7 1185.5L848.1 1168.2L848.5 1158.7L848.9 1185.8L849.2 1170.8L849.6 1174.4L850.0 1165.2L850.4 1166.0
L850.7 1167.7L851.1 1174.7L851.5 1181.2L851.9 1158.9L852.3 1185.2L852.6 1169.2L853.0 1170.6L853.4 1185.7L853.8 1179.8L854.1 1168.0L854.5 1196.8L854.9 1174.6L855.3 1184.3
L855.6 1184.3L856.0 1194.8L856.4 1179.6L856.8 1192.2L857.2 1178.1L857.5 1194.0L857.9 1178.9L858.3 1182.7L858.7 1201.7L859.0 1189.2L859.4 1188.0L859.8 1205.8L860.2 1190.9
L860.6 1181.8L860.9 1194.8L861.3 1179.6L861.7 1198.7L862.1 1199.6L862.4 1185.6L862.8 1185.4L863.2 1192.2L863.6 1191.2L864.0 1183.5L864.3 1196.2L864.7 1175.6L865.1 1188.8
L865.5 1189.4L865.8 1190.7L866.2 1195.6L866.6 1183.7L867.0 1198.4L867.3 1192.6L867.7 1189.1L868.1 1183.7L868.5 1185.4L868.9 1197.8L869.2 1187.6L869.6 1196.0L870.0 1204.0
L870.4 1204.0L870.7 1208.3L871.1 1193.9L871.5 1187.8L871.9 1204.5L872.3 1199.1L872.6 1205.5L873.0 1196.9L873.4 1206.3L873.8 1203.6L874.1 1202.6L874.5 1200.9L874.9 1200.1
L875.3 1198.8L875.6 1198.7L876.0 1204.5L876.4 1192.6L876.8 1210.1L877.2 1195.5L877.5 1203.9L877.9 1195.2L878.3 1193.7L878.7 1211.4L879.0 1192.7L879.4 1184.8L879.8 1188.9
L880.2 1191.7L880.6 1211.0L880.9 1195.2L881.3 1200.6L881.7 1184.8L882.1 1195.2L882.4 1197.4L882.8 1206.0L883.2 1185.6L883.6 1195.6L884.0 1192.8L884.3 1181.7L884.7 1189.4
L885.1 1187.0L885.5 1169.9L885.8 1193.2L886.2 1192.3L886.6 1183.9L887.0 1176.2L887.3 1198.9L887.7 1188.5L888.1 1194.3L888.5 1197.2L888.9 1180.8L889.2 1191.4L889.6 1182.3
L890.0 1183.3L890.4 1182.6L890.7 1182.8L891.1 1191.6L891.5 1182.9L891.9 1180.0L892.3 1178.5L892.6 1183.1L893.0 1172.1L893.4 1174.8L893.8 1178.0L894.1 1173.0L894.5 1176.1
L894.9 1171.2L895.3 1192.7L895.7 1186.1L896.0 1177.6L896.4 1172.3L896.8 1190.6L897.2 1173.5L897.5 1168.9L897.9 1171.3L898.3 1170.4L898.7 1179.2L899.0 1165.7L899.4 1183.6
L899.8 1156.2L900.2 1169.3L900.6 1153.2L900.9 1177.7L901.3 1157.6L901.7 1159.7L902.1 1168.4L902.4 1171.5L902.8 1150.2L903.2 1157.7L903.6 1148.7L904.0 1163.2L904.3 1161.8
L904.7 1160.4L905.1 1158.2L905.5 1161.6L905.8 1159.1L906.2 1171.1L906.6 1180.4L907.0 1150.6L907.3 1167.3L907.7 1165.3L908.1 1173.9L908.5 1162.0L908.9 1169.7L909.2 1162.7
L909.6 1178.4L910.0 1174.0L910.4 1172.4L910.7 1177.7L911.1 1173.2L911.5 1162.8L911.9 1181.8L912.3 1180.0L912.6 1177.0L913.0 1187.4L913.4 1190.1L913.8 1171.7L914.1 1175.2
L914.5 1195.3L914.9 1195.1L915.3 1178.2L915.7 1175.5L916.0 1180.8L916.4 1182.8L916.8 1174.8L917.2 1188.7L917.5 1178.8L917.9 1180.1L918.3 1197.9L918.7 1185.7L919.0 1191.3
L919.4 1197.5L919.8 1199.6L920.2 1191.1L920.6 1194.7L920.9 1188.5L921.3 1209.3L921.7 1201.3L922.1 1188.1L922.4 1197.3L922.8 1203.4L923.2 1202.0L923.6 1213.0L924.0 1209.9
L924.3 1195.5L924.7 1199.4L925.1 1190.7L925.5 1202.9L925.8 1202.5L926.2 1222.4L926.6 1203.0L927.0 1186.7L927.4 1198.0L927.7 1204.3L928.1 1194.4L928.5 1197.8L928.9 1201.9
L929.2 1207.7L929.6 1204.2L930.0 1199.2L930.4 1212.1L930.7 1202.6L931.1 1203.2L931.5 1197.0L931.9 1201.8L932.3 1212.7L932.6 1196.2L933.0 1207.9L933.4 1214.0L933.8 1206.2
L934.1 1210.9L934.5 1201.2L934.9 1219.1L935.3 1217.7L935.7 1211.5L936.0 1197.0L936.4 1202.3L936.8 1217.1L937.2 1222.5L937.5 1212.2L937.9 1219.1L938.3 1205.5L938.7 1208.5
L939.0 1209.9L939.4 1212.9L939.8 1198.6L940.2 1216.6L940.6 1219.3L940.9 1201.1L941.3 1199.5L941.7 1212.0L942.1 1204.5L942.4 1191.8L942.8 1215.1L943.2 1210.2L943.6 1205.4
L944.0 1224.4L944.3 1209.8L944.7 1203.1L945.1 1209.3L945.5 1200.8L945.8 1202.8L946.2 1211.2L946.6 1204.2L947.0 1204.9L947.4 1220.5L947.7 1214.5L948.1 1214.0L948.5 1212.0
L948.9 1211.6L949.2 1218.8L949.6 1207.9L950.0 1221.7L950.4 1201.0L950.7 1206.2L951.1 1197.9L951.5 1205.6L951.9 1212.0L952.3 1218.9L952.6 1203.3L953.0 1208.3L953.4 1205.7
L953.8 1202.9L954.1 1199.7L954.5 1209.0L954.9 1195.8L955.3 1209.5L955.7 1208.9L956.0 1204.0L956.4 1201.4L956.8 1198.8L957.2 1222.8L957.5 1199.3L957.9 1220.7L958.3 1213.7
L958.7 1206.7L959.1 1200.9L959.4 1217.2L959.8 1222.3L960.2 1202.8L960.6 1207.6L960.9 1217.5L961.3 1212.3L961.7 1224.6L962.1 1205.8L962.4 1214.0L962.8 1201.0L963.2 1225.5
L963.6 1204.9L964.0 1194.2L964.3 1209.5L964.7 1209.5L965.1 1224.6L965.5 1208.2L965.8 1210.7L966.2 1215.1L966.6 1222.5L967.0 1210.5L967.4 1218.6L967.7 1214.9L968.1 1209.1
L968.5 1211.9L968.9 1211.6L969.2 1204.8L969.6 1220.3L970.0 1201.5L970.4 1220.1L970.7 1218.6L971.1 1211.1L971.5 1206.3L971.9 1210.2L972.3 1215.3L972.6 1217.3L973.0 1214.0
L973.4 1219.2L973.8 1208.0L974.1 1213.7L974.5 1200.7L974.9 1217.5L975.3 1213.0L975.7 1208.9L976.0 1220.2L976.4 1216.7L976.8 1191.1L977.2 1211.6L977.5 1200.5L977.9 1218.7
L978.3 1228.8L978.7 1206.6L979.1 1210.7L979.4 1208.0L979.8 1212.1L980.2 1213.9L980.6 1218.3L980.9 1201.2L981.3 1219.8L981.7 1200.9L982.1 1209.5L982.4 1215.6L982.8 1211.9
L983.2 1199.2L983.6 1200.6L984.0 1201.9L984.3 1204.6L984.7 1213.2L985.1 1194.4L985.5 1207.2L985.8 1207.9L986.2 1207.1L986.6 1206.0L987.0 1213.6L987.4 1205.3L987.7 1207.6
L988.1 1204.8L988.5 1213.6L988.9 1184.5L989.2 1208.3L989.6 1195.6L990.0 1194.6L990.4 1188.5L990.8 1180.6L991.1 1191.4L991.5 1188.2L991.9 1196.7L992.3 1180.3L992.6 1202.8
L993.0 1192.8L993.4 1188.1L993.8 1183.8L994.1 1182.6L994.5 1179.4L994.9 1183.9L995.3 1188.2L995.7 1186.6L996.0 1176.5L996.4 1186.1L996.8 1181.5L997.2 1190.6L997.5 1204.9
L997.9 1195.7L998.3 1188.9L998.7 1179.2L999.1 1181.6L999.4 1180.0L999.8 1199.6L1000.2 1188.1L1000.6 1194.9L1000.9 1189.7L1001.3 1195.6L1001.7 1206.2L1002.1 1189.9L1002.4 1192.8
L1002.8 1189.3L1003.2 1202.7L1003.6 1187.8L1004.0 1187.0L1004.3 1185.1L1004.7 1184.9L1005.1 1199.4L1005.5 1215.5L1005.8 1186.8L1006.2 1201.4L1006.6 1195.0L1007.0 1183.4
L1007.4 1189.0L1007.7 1188.5L1008.1 1183.9L1008.5 1204.3L1008.9 1172.5L1009.2 1190.6L1009.6 1189.8L1010.0 1182.2L1010.4 1188.3L1010.8 1194.4L1011.1 1188.6L1011.5 1191.1
L1011.9 1193.7L1012.3 1171.9L1012.6 1200.8L1013.0 1207.7L1013.4 1197.7L1013.8 1198.5L1014.1 1179.5L1014.5 1190.4L1014.9 1185.4L1015.3 1187.7L1015.7 1200.7L1016.0 1187.4
L1016.4 1193.5L1016.8 1180.5L1017.2 1195.1L1017.5 1197.9L1017.9 1192.6L1018.3 1193.4L1018.7 1214.2L1019.1 1191.3L1019.4 1193.2L1019.8 1195.6L1020.2 1211.3L1020.6 1218.6
L1020.9 1205.6L1021.3 1198.0L1021.7 1200.6L1022.1 1212.2L1022.5 1197.7L1022.8 1215.8L1023.2 1215.8L1023.6 1206.1L1024.0 1210.7L1024.3 1211.7L1024.7 1218.0L1025.1 1198.9
L1025.5 1215.7L1025.8 1204.4L1026.2 1201.8L1026.6 1208.5L1027.0 1206.4L1027.4 1200.9L1027.7 1196.7L1028.1 1201.8L1028.5 1219.7L1028.9 1223.6L1029.2 1214.2L1029.6 1218.4
L1030.0 1206.2L1030.4 1209.7L1030.8 1212.6L1031.1 1203.0L1031.5 1204.0L1031.9 1212.2L1032.3 1209.5L1032.6 1204.4L1033.0 1215.2L1033.4 1210.8L1033.8 1220.4L1034.1 1213.3
L1034.5 1211.4L1034.9 1214.7L1035.3 1212.8L1035.7 1209.5L1036.0 1211.5L1036.4 1219.9L1036.8 1219.2L1037.2 1223.8L1037.5 1202.6L1037.9 1211.9L1038.3 1211.7L1038.7 1215.9
L1039.1 1211.5L1039.4 1211.0L1039.8 1220.3L1040.2 1216.0L1040.6 1206.4L1040.9 1224.2L1041.3 1221.8L1041.7 1210.6L1042.1 1220.6L1042.5 1209.5L1042.8 1222.7L1043.2 1213.1
L1043.6 1209.0L1044.0 1212.0L1044.3 1209.2L1044.7 1216.1L1045.1 1215.9L1045.5 1215.0L1045.8 1210.7L1046.2 1188.6L1046.6 1215.4L1047.0 1201.2L1047.4 1216.4L1047.7 1222.8
L1048.1 1216.7L1048.5 1211.9L1048.9 1213.4L1049.2 1213.8L1049.6 1210.8L1050.0 1210.5L1050.4 1208.1L1050.8 1223.1L1051.1 1214.4L1051.5 1221.1L1051.9 1212.3L1052.3 1214.3
L1052.6 1212.3L1053.0 1216.5L1053.4 1218.7L1053.8 1214.1L1054.2 1207.0L1054.5 1205.8L1054.9 1223.0L1055.3 1208.3L1055.7 1207.7L1056.0 1220.0L1056.4 1216.6L1056.8 1212.0
L1057.2 1204.4L1057.5 1224.1L1057.9 1208.9L1058.3 1209.1L1058.7 1202.7L1059.1 1192.2L1059.4 1191.4L1059.8 1202.9L1060.2 1201.3L1060.6 1194.8L1060.9 1186.0L1061.3 1182.0
L1061.7 1188.4L1062.1 1177.7L1062.5 1193.6L1062.8 1193.1L1063.2 1202.9L1063.6 1185.1L1064.0 1171.0L1064.3 1165.4L1064.7 1143.1L1065.1 1159.5L1065.5 1158.0L1065.8 1161.3
L1066.2 1153.7L1066.6 1147.1L1067.0 1137.4L1067.4 1131.4L1067.7 1127.0L1068.1 1105.4L1068.5 1100.9L1068.9 1088.0L1069.2 1100.4L1069.6 1091.3L1070.0 1081.4L1070.4 1062.1
L1070.8 1067.7L1071.1 1062.1L1071.5 1065.9L1071.9 1066.6L1072.3 1077.7L1072.6 1077.5L1073.0 1092.9L1073.4 1096.2L1073.8 1099.4L1074.2 1107.8L1074.5 1114.3L1074.9 1129.2
L1075.3 1132.0L1075.7 1142.8L1076.0 1145.2L1076.4 1142.7L1076.8 1164.0L1077.2 1155.1L1077.5 1171.7L1077.9 1174.0L1078.3 1162.9L1078.7 1171.4L1079.1 1177.5L1079.4 1177.7
L1079.8 1176.9L1080.2 1193.6L1080.6 1187.5L1080.9 1193.8L1081.3 1188.9L1081.7 1196.0L1082.1 1189.0L1082.5 1195.8L1082.8 1201.5L1083.2 1198.3L1083.6 1195.2L1084.0 1190.9
L1084.3 1201.0L1084.7 1202.6L1085.1 1198.0L1085.5 1194.0L1085.9 1204.0L1086.2 1218.8L1086.6 1197.1L1087.0 1201.7L1087.4 1201.7L1087.7 1178.4L1088.1 1198.8L1088.5 1191.8
L1088.9 1207.6L1089.2 1194.2L1089.6 1189.5L1090.0 1193.2L1090.4 1195.5L1090.8 1189.0L1091.1 1192.3L1091.5 1181.2L1091.9 1189.3L1092.3 1196.5L1092.6 1205.2L1093.0 1193.9
L1093.4 1189.1L1093.8 1194.8L1094.2 1191.8L1094.5 1195.0L1094.9 1188.4L1095.3 1176.7L1095.7 1177.5L1096.0 1174.7L1096.4 1173.4L1096.8 1170.3L1097.2 1159.9L1097.5 1146.8
L1097.9 1155.9L1098.3 1142.1L1098.7 1155.1L1099.1 1151.0L1099.4 1133.7L1099.8 1150.1L1100.2 1149.3L1100.6 1140.4L1100.9 1154.5L1101.3 1156.4L1101.7 1128.1L1102.1 1149.0
L1102.5 1144.0L1102.8 1144.9L1103.2 1151.0L1103.6 1136.8L1104.0 1139.4L1104.3 1138.7L1104.7 1140.8L1105.1 1148.3L1105.5 1136.9L1105.9 1141.7L1106.2 1157.6L1106.6 1152.4
L1107.0 1157.4L1107.4 1137.3L1107.7 1148.3L1108.1 1151.2L1108.5 1157.4L1108.9 1152.4L1109.2 1166.9L1109.6 1158.4L1110.0 1159.6L1110.4 1159.9L1110.8 1166.4L1111.1 1155.7
L1111.5 1169.5L1111.9 1161.8L1112.3 1156.6L1112.6 1152.5L1113.0 1152.4L1113.4 1151.8L1113.8 1146.6L1114.2 1137.5L1114.5 1136.3L1114.9 1125.8L1115.3 1127.8L1115.7 1112.5
L1116.0 1093.3L1116.4 1104.5L1116.8 1089.3L1117.2 1073.6L1117.5 1070.5L1117.9 1057.6L1118.3 1060.9L1118.7 1042.8L1119.1 1021.8L1119.4 1024.4L1119.8 1010.3L1120.2 1024.1
L1120.6 992.0L1120.9 981.1L1121.3 991.7L1121.7 983.0L1122.1 981.1L1122.5 981.1L1122.8 990.5L1123.2 1007.9L1123.6 981.1L1124.0 1005.8L1124.3 989.2L1124.7 1025.4L1125.1 1008.0
L1125.5 1004.7L1125.9 1022.9L1126.2 1019.1L1126.6 1008.5L1127.0 1026.5L1127.4 1014.7L1127.7 1002.3L1128.1 1049.6L1128.5 1024.2L1128.9 1023.7L1129.2 1037.1L1129.6 1017.6
L1130.0 1022.5L1130.4 1034.7L1130.8 1036.9L1131.1 1046.0L1131.5 1060.4L1131.9 1044.1L1132.3 1057.3L1132.6 1060.4L1133.0 1043.0L1133.4 1059.9L1133.8 1048.6L1134.2 1073.2
L1134.5 1068.5L1134.9 1066.1L1135.3 1054.3L1135.7 1072.5L1136.0 1067.0L1136.4 1084.6L1136.8 1082.6L1137.2 1083.7L1137.6 1102.4L1137.9 1107.4L1138.3 1103.6L1138.7 1122.3
L1139.1 1115.1L1139.4 1119.4L1139.8 1127.2L1140.2 1124.2L1140.6 1130.6L1140.9 1136.7L1141.3 1154.2L1141.7 1157.4L1142.1 1145.5L1142.5 1164.3L1142.8 1152.5L1143.2 1158.4
L1143.6 1164.9L1144.0 1161.8L1144.3 1182.1L1144.7 1165.2L1145.1 1154.6L1145.5 1177.7L1145.9 1164.7L1146.2 1167.3L1146.6 1146.3L1147.0 1181.5L1147.4 1181.6L1147.7 1183.1
L1148.1 1186.3L1148.5 1193.7L1148.9 1181.5L1149.2 1191.1L1149.6 1179.4L1150.0 1184.2L1150.4 1196.9L1150.8 1193.2L1151.1 1181.1L1151.5 1195.6L1151.9 1192.5L1152.3 1188.5
L1152.6 1199.2L1153.0 1193.5L1153.4 1185.2L1153.8 1189.6L1154.2 1212.5L1154.5 1188.0L1154.9 1202.0L1155.3 1205.6L1155.7 1206.5L1156.0 1192.9L1156.4 1200.4L1156.8 1204.4
L1157.2 1209.9L1157.6 1199.6L1157.9 1196.2L1158.3 1212.9L1158.7 1214.2L1159.1 1209.1L1159.4 1202.3L1159.8 1210.3L1160.2 1208.5L1160.6 1214.3L1160.9 1199.4L1161.3 1209.8
L1161.7 1208.2L1162.1 1201.7L1162.5 1211.7L1162.8 1210.8L1163.2 1208.0L1163.6 1214.3L1164.0 1201.6L1164.3 1211.8L1164.7 1215.7L1165.1 1215.1L1165.5 1221.2L1165.9 1205.3
L1166.2 1203.6L1166.6 1216.4L1167.0 1218.3L1167.4 1230.5L1167.7 1220.2L1168.1 1210.1L1168.5 1222.3L1168.9 1211.0L1169.3 1206.9L1169.6 1235.8L1170.0 1220.2L1170.4 1223.2
L1170.8 1222.4L1171.1 1231.3L1171.5 1220.9L1171.9 1227.6L1172.3 1212.3L1172.6 1209.9L1173.0 1229.5L1173.4 1230.0L1173.8 1223.4L1174.2 1221.5L1174.5 1221.1L1174.9 1215.3
L1175.3 1230.6L1175.7 1224.5L1176.0 1223.5L1176.4 1222.6L1176.8 1227.2L1177.2 1223.5L1177.6 1225.1L1177.9 1211.9L1178.3 1223.5L1178.7 1235.1L1179.1 1216.4L1179.4 1219.1
L1179.8 1226.2L1180.2 1226.6L1180.6 1224.3L1180.9 1208.8L1181.3 1223.5L1181.7 1211.8L1182.1 1214.3L1182.5 1223.8L1182.8 1218.0L1183.2 1225.6L1183.6 1241.7L1184.0 1225.4
L1184.3 1225.0L1184.7 1213.8L1185.1 1215.6L1185.5 1212.7L1185.9 1216.3L1186.2 1212.5L1186.6 1215.4L1187.0 1218.6L1187.4 1213.1L1187.7 1210.2L1188.1 1210.6L1188.5 1223.1
L1188.9 1220.4L1189.3 1227.0L1189.6 1227.1L1190.0 1217.5L1190.4 1224.4L1190.8 1209.8L1191.1 1235.5L1191.5 1227.9L1191.9 1218.1L1192.3 1211.4L1192.6 1222.1L1193.0 1206.4
L1193.4 1213.9L1193.8 1224.4L1194.2 1219.6L1194.5 1215.5L1194.9 1225.5L1195.3 1211.5L1195.7 1220.6L1196.0 1215.0L1196.4 1212.5L1196.8 1221.5L1197.2 1211.2L1197.6 1231.2
L1197.9 1213.7L1198.3 1231.6L1198.7 1209.8L1199.1 1221.6L1199.4 1208.7L1199.8 1207.6L1200.2 1217.9L1200.6 1221.2L1201.0 1206.9L1201.3 1223.7L1201.7 1209.0L1202.1 1214.9
L1202.5 1215.8L1202.8 1216.5L1203.2 1198.5L1203.6 1222.1L1204.0 1213.6L1204.3 1205.5L1204.7 1200.1L1205.1 1194.2L1205.5 1195.7L1205.9 1208.9L1206.2 1201.5L1206.6 1194.7
L1207.0 1198.5L1207.4 1213.8L1207.7 1198.8L1208.1 1196.2L1208.5 1210.3L1208.9 1202.8L1209.3 1199.0L1209.6 1193.2L1210.0 1185.2L1210.4 1187.5L1210.8 1192.2L1211.1 1193.6
L1211.5 1197.6L1211.9 1198.6L1212.3 1195.5L1212.6 1195.0L1213.0 1184.9L1213.4 1175.4L1213.8 1188.1L1214.2 1184.5L1214.5 1186.8L1214.9 1189.8L1215.3 1182.2L1215.7 1183.5
L1216.0 1192.0L1216.4 1194.2L1216.8 1188.7L1217.2 1198.5L1217.6 1193.6L1217.9 1188.2L1218.3 1197.4L1218.7 1212.4L1219.1 1193.6L1219.4 1208.6L1219.8 1211.1L1220.2 1212.8
L1220.6 1196.0L1221.0 1218.2L1221.3 1204.6L1221.7 1202.4L1222.1 1203.0L1222.5 1209.7L1222.8 1205.9L1223.2 1204.6L1223.6 1215.8L1224.0 1201.2L1224.3 1199.2L1224.7 1213.2
L1225.1 1212.8L1225.5 1216.0L1225.9 1200.3L1226.2 1216.5L1226.6 1212.4L1227.0 1222.0L1227.4 1200.1L1227.7 1211.1L1228.1 1207.6L1228.5 1198.1L1228.9 1204.7L1229.3 1218.2
L1229.6 1206.6L1230.0 1204.7L1230.4 1216.2L1230.8 1216.9L1231.1 1216.6L1231.5 1203.2L1231.9 1208.1L1232.3 1215.5L1232.7 1202.4L1233.0 1201.0L1233.4 1211.9L1233.8 1216.6
L1234.2 1195.5L1234.5 1183.7L1234.9 1191.2L1235.3 1193.4L1235.7 1199.0L1236.0 1203.6L1236.4 1196.6L1236.8 1191.2L1237.2 1196.6L1237.6 1186.7L1237.9 1191.9L1238.3 1185.3
L1238.7 1207.6L1239.1 1191.0L1239.4 1175.8L1239.8 1171.5L1240.2 1172.7L1240.6 1160.3L1241.0 1164.3L1241.3 1161.5L1241.7 1172.4L1242.1 1159.3L1242.5 1154.4L1242.8 1147.9
L1243.2 1147.5L1243.6 1155.7L1244.0 1152.8L1244.3 1163.6L1244.7 1146.3L1245.1 1160.9L1245.5 1152.8L1245.9 1150.0L1246.2 1136.1L1246.6 1138.5L1247.0 1158.3L1247.4 1165.4
L1247.7 1155.8L1248.1 1162.3L1248.5 1153.4L1248.9 1155.3L1249.3 1154.2L1249.6 1170.1L1250.0 1165.7L1250.4 1161.8L1250.8 1162.2L1251.1 1171.2L1251.5 1170.3L1251.9 1161.6
L1252.3 1184.8L1252.7 1173.4L1253.0 1172.5L1253.4 1186.2L1253.8 1183.5L1254.2 1175.3L1254.5 1181.8L1254.9 1169.5L1255.3 1174.3L1255.7 1162.0L1256.0 1191.9L1256.4 1167.3
L1256.8 1189.5L1257.2 1178.2L1257.6 1178.0L1257.9 1185.5L1258.3 1190.3L1258.7 1194.1L1259.1 1204.4L1259.4 1194.4L1259.8 1199.6L1260.2 1189.1L1260.6 1200.5L1261.0 1197.2
L1261.3 1193.4L1261.7 1197.2L1262.1 1198.3L1262.5 1201.1L1262.8 1203.4L1263.2 1197.0L1263.6 1195.7L1264.0 1207.4L1264.4 1189.0L1264.7 1197.3L1265.1 1213.8L1265.5 1181.2
L1265.9 1196.5L1266.2 1206.9L1266.6 1188.8L1267.0 1221.1L1267.4 1181.1L1267.7 1211.7L1268.1 1212.3L1268.5 1207.0L1268.9 1197.9L1269.3 1202.0L1269.6 1191.8L1270.0 1204.6
L1270.4 1189.1L1270.8 1195.2L1271.1 1204.6L1271.5 1187.4L1271.9 1192.4L1272.3 1195.4L1272.7 1182.4L1273.0 1200.5L1273.4 1192.5L1273.8 1176.3L1274.2 1185.8L1274.5 1178.1
L1274.9 1176.8L1275.3 1180.2L1275.7 1171.6L1276.0 1182.1L1276.4 1166.3L1276.8 1173.9L1277.2 1162.0L1277.6 1162.2L1277.9 1147.6L1278.3 1141.8L1278.7 1131.5L1279.1 1137.4
L1279.4 1135.2L1279.8 1139.7L1280.2 1128.2L1280.6 1115.0L1281.0 1106.2L1281.3 1106.1L1281.7 1098.3L1282.1 1110.0L1282.5 1103.6L1282.8 1089.7L1283.2 1089.7L1283.6 1110.2
L1284.0 1103.1L1284.4 1102.6L1284.7 1118.8L1285.1 1111.1L1285.5 1116.7L1285.9 1119.8L1286.2 1112.2L1286.6 1138.8L1287.0 1128.7L1287.4 1138.5L1287.7 1142.6L1288.1 1157.9
L1288.5 1157.3L1288.9 1162.4L1289.3 1153.7L1289.6 1168.8L1290.0 1160.6L1290.4 1177.4L1290.8 1180.5L1291.1 1180.0L1291.5 1198.4L1291.9 1189.0L1292.3 1191.7L1292.7 1190.2
L1293.0 1189.3L1293.4 1199.8L1293.8 1202.1L1294.2 1184.1L1294.5 1203.2L1294.9 1199.2L1295.3 1202.9L1295.7 1199.2L1296.1 1185.9L1296.4 1186.6L1296.8 1210.3L1297.2 1198.1
L1297.6 1185.1L1297.9 1199.1L1298.3 1193.6L1298.7 1182.1L1299.1 1178.7L1299.4 1184.2L1299.8 1198.9L1300.2 1196.5L1300.6 1195.0L1301.0 1199.2L1301.3 1201.7L1301.7 1180.5
L1302.1 1194.6L1302.5 1190.5L1302.8 1187.3L1303.2 1192.7L1303.6 1196.0L1304.0 1194.9L1304.4 1185.5L1304.7 1193.1L1305.1 1212.6L1305.5 1188.5L1305.9 1183.5L1306.2 1198.9
L1306.6 1201.3L1307.0 1200.2L1307.4 1187.7L1307.7 1204.3L1308.1 1190.2L1308.5 1187.4L1308.9 1191.5L1309.3 1195.3L1309.6 1201.7L1310.0 1200.9L1310.4 1195.8L1310.8 1203.2
L1311.1 1196.4L1311.5 1202.8L1311.9 1184.5L1312.3 1183.1L1312.7 1201.6L1313.0 1184.4L1313.4 1192.9L1313.8 1194.4L1314.2 1191.3L1314.5 1191.4L1314.9 1206.0L1315.3 1174.9
L1315.7 1201.8L1316.1 1212.9L1316.4 1194.8L1316.8 1194.4L1317.2 1200.2L1317.6 1208.9L1317.9 1184.9L1318.3 1194.9L1318.7 1192.7L1319.1 1198.5L1319.4 1195.2L1319.8 1199.1
L1320.2 1190.4L1320.6 1194.0L1321.0 1188.2L1321.3 1188.1L1321.7 1192.2L1322.1 1192.0L1322.5 1183.7L1322.8 1205.4L1323.2 1191.6L1323.6 1181.5L1324.0 1201.2L1324.4 1186.2
L1324.7 1196.1L1325.1 1191.6L1325.5 1193.5L1325.9 1192.5L1326.2 1186.1L1326.6 1190.6L1327.0 1206.2L1327.4 1171.2L1327.8 1189.2L1328.1 1191.6L1328.5 1178.9L1328.9 1175.6
L1329.3 1203.7L1329.6 1182.3L1330.0 1201.7L1330.4 1188.2L1330.8 1183.7L1331.1 1186.2L1331.5 1186.7L1331.9 1190.5L1332.3 1183.5L1332.7 1180.1L1333.0 1179.1L1333.4 1187.6
L1333.8 1181.7L1334.2 1164.9L1334.5 1166.4L1334.9 1173.1L1335.3 1163.5L1335.7 1164.4L1336.1 1158.2L1336.4 1163.4L1336.8 1169.0L1337.2 1173.9L1337.6 1165.1L1337.9 1183.6
L1338.3 1164.3L1338.7 1193.6L1339.1 1174.0L1339.4 1169.5L1339.8 1160.5L1340.2 1139.7L1340.6 1163.6L1341.0 1166.6L1341.3 1182.2L1341.7 1152.6L1342.1 1182.1L1342.5 1162.7
L1342.8 1171.5L1343.2 1142.2L1343.6 1166.2L1344.0 1161.9L1344.4 1171.1L1344.7 1165.8L1345.1 1154.5L1345.5 1172.3L1345.9 1168.8L1346.2 1166.2L1346.6 1167.8L1347.0 1166.3
L1347.4 1154.2L1347.8 1140.2L1348.1 1137.2L1348.5 1157.6L1348.9 1149.3L1349.3 1141.2L1349.6 1133.6L1350.0 1134.8L1350.4 1131.3L1350.8 1124.5L1351.1 1117.4L1351.5 1136.8
L1351.9 1116.6L1352.3 1105.4L1352.7 1095.0L1353.0 1096.3L1353.4 1106.8L1353.8 1104.2L1354.2 1091.6L1354.5 1091.0L1354.9 1084.5L1355.3 1073.3L1355.7 1096.6L1356.1 1085.1
L1356.4 1108.4L1356.8 1072.1L1357.2 1079.5L1357.6 1092.2L1357.9 1082.4L1358.3 1073.9L1358.7 1081.7L1359.1 1095.3L1359.5 1101.2L1359.8 1100.9L1360.2 1114.6L1360.6 1118.1
L1361.0 1115.4L1361.3 1116.3L1361.7 1117.8L1362.1 1128.5L1362.5 1135.6L1362.8 1132.9L1363.2 1140.2L1363.6 1138.1L1364.0 1133.1L1364.4 1139.7L1364.7 1157.4L1365.1 1157.7
L1365.5 1170.1L1365.9 1160.3L1366.2 1169.7L1366.6 1176.1L1367.0 1176.0L1367.4 1165.6L1367.8 1171.4L1368.1 1176.1L1368.5 1169.1L1368.9 1182.8L1369.3 1189.0L1369.6 1178.2
L1370.0 1199.5L1370.4 1182.6L1370.8 1184.7L1371.1 1185.8L1371.5 1183.4L1371.9 1193.5L1372.3 1191.5L1372.7 1205.5L1373.0 1198.0L1373.4 1198.2L1373.8 1192.7L1374.2 1183.7
L1374.5 1194.3L1374.9 1188.3L1375.3 1202.5L1375.7 1194.8L1376.1 1208.2L1376.4 1200.8L1376.8 1201.6L1377.2 1196.8L1377.6 1196.6L1377.9 1200.2L1378.3 1202.3L1378.7 1189.4
L1379.1 1198.9L1379.5 1215.7L1379.8 1194.3L1380.2 1193.0L1380.6 1189.5L1381.0 1183.5L1381.3 1204.4L1381.7 1195.5L1382.1 1197.4L1382.5 1209.6L1382.8 1214.8L1383.2 1188.0
L1383.6 1203.3L1384.0 1199.9L1384.4 1198.2L1384.7 1198.8L1385.1 1194.8L1385.5 1207.6L1385.9 1199.9L1386.2 1197.7L1386.6 1204.9L1387.0 1202.1L1387.4 1198.7L1387.8 1197.6
L1388.1 1208.8L1388.5 1198.9L1388.9 1194.1L1389.3 1188.0L1389.6 1192.0L1390.0 1186.3L1390.4 1195.4L1390.8 1196.4L1391.2 1178.0L1391.5 1194.3L1391.9 1199.2L1392.3 1195.2
L1392.7 1186.2L1393.0 1203.7L1393.4 1188.0L1393.8 1183.6L1394.2 1184.6L1394.5 1193.0L1394.9 1200.8L1395.3 1202.1L1395.7 1194.4L1396.1 1183.1L1396.4 1187.2L1396.8 1185.2
L1397.2 1190.9L1397.6 1178.0L1397.9 1193.0L1398.3 1197.3L1398.7 1190.9L1399.1 1195.7L1399.5 1184.5L1399.8 1180.3L1400.2 1186.9L1400.6 1201.3L1401.0 1200.3L1401.3 1188.3
L1401.7 1201.7L1402.1 1189.4L1402.5 1204.1L1402.8 1195.9L1403.2 1188.4L1403.6 1198.4L1404.0 1185.8L1404.4 1184.5L1404.7 1180.4L1405.1 1194.1L1405.5 1191.6L1405.9 1191.4
L1406.2 1188.7L1406.6 1203.5L1407.0 1188.6L1407.4 1186.2L1407.8 1202.0L1408.1 1203.4L1408.5 1194.7L1408.9 1178.1L1409.3 1187.2L1409.6 1196.9L1410.0 1192.0L1410.4 1203.9
L1410.8 1180.0L1411.2 1195.6L1411.5 1184.3L1411.9 1199.0L1412.3 1186.7L1412.7 1194.4L1413.0 1179.7L1413.4 1172.2L1413.8 1173.4L1414.2 1176.3L1414.5 1171.7L1414.9 1188.9
L1415.3 1188.7L1415.7 1178.4L1416.1 1165.9L1416.4 1171.9L1416.8 1165.4L1417.2 1181.9L1417.6 1170.6L1417.9 1170.7L1418.3 1161.6L1418.7 1146.1L1419.1 1156.0L1419.5 1152.1
L1419.8 1165.1L1420.2 1162.2L1420.6 1153.8L1421.0 1157.2L1421.3 1174.8L1421.7 1151.6L1422.1 1151.7L1422.5 1157.9L1422.9 1153.4L1423.2 1155.7L1423.6 1164.4L1424.0 1175.2
L1424.4 1142.9L1424.7 1158.9L1425.1 1159.2L1425.5 1157.8L1425.9 1156.6L1426.2 1154.8L1426.6 1166.8L1427.0 1152.9L1427.4 1155.4L1427.8 1155.6L1428.1 1155.3L1428.5 1151.2
L1428.9 1159.7L1429.3 1148.5L1429.6 1147.7L1430.0 1143.0L1430.4 1131.8L1430.8 1130.5L1431.2 1125.5L1431.5 1127.6L1431.9 1114.9L1432.3 1104.7L1432.7 1102.3L1433.0 1095.4
L1433.4 1074.3L1433.8 1086.0L1434.2 1068.0L1434.5 1058.6L1434.9 1058.2L1435.3 1044.6L1435.7 1032.9L1436.1 1056.2L1436.4 1018.9L1436.8 1025.2L1437.2 1032.5L1437.6 1013.5
L1437.9 1017.3L1438.3 1013.5L1438.7 1048.0L1439.1 1013.6L1439.5 1027.3L1439.8 1039.0L1440.2 1040.7L1440.6 1037.2L1441.0 1055.7L1441.3 1060.4L1441.7 1070.3L1442.1 1082.4
L1442.5 1090.0L1442.9 1094.4L1443.2 1100.9L1443.6 1097.3L1444.0 1110.1L1444.4 1118.4L1444.7 1119.7L1445.1 1128.7L1445.5 1127.1L1445.9 1149.4L1446.2 1158.9L1446.6 1143.4
L1447.0 1153.3L1447.4 1151.4L1447.8 1166.7L1448.1 1162.8L1448.5 1162.6L1448.9 1162.7L1449.3 1168.0L1449.6 1161.1L1450.0 1177.1L1450.4 1167.9L1450.8 1180.1L1451.2 1178.8
L1451.5 1188.5L1451.9 1181.4L1452.3 1191.5L1452.7 1178.0L1453.0 1191.8L1453.4 1187.0L1453.8 1192.0L1454.2 1192.7L1454.6 1200.9L1454.9 1179.8L1455.3 1199.2L1455.7 1186.7
L1456.1 1208.5L1456.4 1185.6L1456.8 1194.0L1457.2 1189.9L1457.6 1215.7L1457.9 1194.7L1458.3 1206.1L1458.7 1202.2L1459.1 1193.8L1459.5 1205.4L1459.8 1213.6L1460.2 1208.2
L1460.6 1217.1L1461.0 1208.4L1461.3 1211.8L1461.7 1209.6L1462.1 1215.4L1462.5 1227.0L1462.9 1216.4L1463.2 1215.6L1463.6 1210.0L1464.0 1209.2L1464.4 1225.1L1464.7 1206.8
L1465.1 1208.2L1465.5 1214.0L1465.9 1211.7L1466.2 1228.6L1466.6 1197.8L1467.0 1217.3L1467.4 1219.8L1467.8 1206.7L1468.1 1210.1L1468.5 1217.8L1468.9 1226.3L1469.3 1208.1
L1469.6 1203.4L1470.0 1221.6L1470.4 1225.6L1470.8 1212.3L1471.2 1198.9L1471.5 1225.0L1471.9 1213.3L1472.3 1222.7L1472.7 1214.4L1473.0 1212.0L1473.4 1211.5L1473.8 1225.2
L1474.2 1224.9L1474.6 1199.5L1474.9 1208.0L1475.3 1227.2L1475.7 1211.6L1476.1 1204.2L1476.4 1213.6L1476.8 1212.3L1477.2 1211.9L1477.6 1208.6L1477.9 1209.2L1478.3 1207.5
L1478.7 1212.5L1479.1 1203.5L1479.5 1206.6L1479.8 1206.9L1480.2 1216.9L1480.6 1209.3L1481.0 1205.0L1481.3 1209.1L1481.7 1207.4L1482.1 1211.9L1482.5 1206.9L1482.9 1216.1
L1483.2 1212.2L1483.6 1201.1L1484.0 1197.8L1484.4 1207.4L1484.7 1204.3L1485.1 1199.4L1485.5 1188.6L1485.9 1185.9L1486.3 1202.7L1486.6 1206.1L1487.0 1206.6L1487.4 1190.8
L1487.8 1208.9L1488.1 1197.3L1488.5 1204.8L1488.9 1205.4L1489.3 1196.7L1489.6 1198.8L1490.0 1188.3L1490.4 1197.5L1490.8 1191.5L1491.2 1208.9L1491.5 1206.6L1491.9 1213.5
L1492.3 1209.9L1492.7 1203.2L1493.0 1210.9L1493.4 1206.0L1493.8 1213.8L1494.2 1212.0L1494.6 1202.8L1494.9 1210.4L1495.3 1211.1L1495.7 1208.8L1496.1 1217.9L1496.4 1224.2
L1496.8 1209.5L1497.2 1210.0L1497.6 1196.7L1497.9 1212.3L1498.3 1210.4L1498.7 1198.5L1499.1 1216.3L1499.5 1218.8L1499.8 1209.6L1500.2 1212.5L1500.6 1208.6L1501.0 1221.1
L1501.3 1205.2L1501.7 1214.0L1502.1 1230.1L1502.5 1216.9L1502.9 1220.0L1503.2 1215.8L1503.6 1208.6L1504.0 1216.7L1504.4 1219.9L1504.7 1209.8L1505.1 1219.4L1505.5 1225.6
L1505.9 1224.3L1506.3 1205.5L1506.6 1209.6L1507.0 1204.9L1507.4 1223.6L1507.8 1220.2L1508.1 1220.6L1508.5 1209.1L1508.9 1206.8L1509.3 1215.4L1509.6 1215.3L1510.0 1208.2
L1510.4 1215.1L1510.8 1218.4L1511.2 1215.2L1511.5 1205.8L1511.9 1197.9L1512.3 1211.0L1512.7 1213.8L1513.0 1210.6L1513.4 1209.2L1513.8 1207.2L1514.2 1217.3L1514.6 1211.6
L1514.9 1212.9L1515.3 1205.0L1515.7 1207.6L1516.1 1213.5L1516.4 1205.3L1516.8 1203.7L1517.2 1210.8L1517.6 1222.1L1518.0 1215.3L1518.3 1224.8L1518.7 1214.0L1519.1 1213.3
L1519.5 1206.3L1519.8 1212.6L1520.2 1227.3L1520.6 1220.2L1521.0 1223.6L1521.3 1224.0L1521.7 1219.7L1522.1 1219.0L1522.5 1221.9L1522.9 1226.2L1523.2 1225.3L1523.6 1226.1
L1524.0 1224.3L1524.4 1218.6L1524.7 1222.5L1525.1 1218.4L1525.5 1231.7L1525.9 1211.4L1526.3 1224.2L1526.6 1241.7L1527.0 1223.7L1527.4 1218.5L1527.8 1225.9L1528.1 1234.6
L1528.5 1224.9L1528.9 1230.0L1529.3 1226.6L1529.6 1223.5L1530.0 1246.8L1530.4 1226.4L1530.8 1222.3L1531.2 1222.6L1531.5 1228.3L1531.9 1228.5L1532.3 1230.8L1532.7 1226.6
L1533.0 1216.1L1533.4 1229.1L1533.8 1223.4L1534.2 1223.5L1534.6 1215.5L1534.9 1221.5L1535.3 1220.4L1535.7 1224.9L1536.1 1215.4L1536.4 1225.3L1536.8 1225.7L1537.2 1217.3
L1537.6 1220.5L1538.0 1218.7L1538.3 1230.1L1538.7 1206.5L1539.1 1220.5L1539.5 1210.8L1539.8 1218.0L1540.2 1225.6L1540.6 1214.3L1541.0 1218.2L1541.3 1210.0L1541.7 1227.5
L1542.1 1218.9L1542.5 1218.6L1542.9 1199.7L1543.2 1199.3L1543.6 1212.8L1544.0 1201.6L1544.4 1198.3L1544.7 1198.6L1545.1 1184.5L1545.5 1192.8L1545.9 1183.3L1546.3 1181.2
L1546.6 1168.9L1547.0 1171.6L1547.4 1158.7L1547.8 1165.1L1548.1 1161.0L1548.5 1154.0L1548.9 1145.8L1549.3 1140.9L1549.7 1112.2L1550.0 1131.8L1550.4 1118.6L1550.8 1117.0
L1551.2 1109.9L1551.5 1096.3L1551.9 1100.4L1552.3 1107.9L1552.7 1112.0L1553.0 1089.3L1553.4 1083.6L1553.8 1106.9L1554.2 1080.4L1554.6 1079.7L1554.9 1091.5L1555.3 1083.2
L1555.7 1104.8L1556.1 1114.0L1556.4 1087.9L1556.8 1118.7L1557.2 1106.4L1557.6 1125.5L1558.0 1113.8L1558.3 1107.7L1558.7 1129.1L1559.1 1136.3L1559.5 1149.1L1559.8 1150.8
L1560.2 1148.8L1560.6 1147.9L1561.0 1151.2L1561.3 1157.5L1561.7 1157.8L1562.1 1165.4L1562.5 1149.7L1562.9 1174.0L1563.2 1174.6L1563.6 1197.6L1564.0 1185.3L1564.4 1177.5
L1564.7 1187.8L1565.1 1175.5L1565.5 1182.2L1565.9 1173.8L1566.3 1201.3L1566.6 1195.9L1567.0 1183.1L1567.4 1192.8L1567.8 1201.5L1568.1 1198.3L1568.5 1197.7L1568.9 1187.9
L1569.3 1189.3L1569.7 1194.4L1570.0 1199.9L1570.4 1184.9L1570.8 1181.2L1571.2 1197.3L1571.5 1179.3L1571.9 1193.1L1572.3 1184.5L1572.7 1187.5L1573.0 1192.3L1573.4 1181.8
L1573.8 1180.3L1574.2 1164.2L1574.6 1162.7L1574.9 1169.1L1575.3 1172.6L1575.7 1169.1L1576.1 1175.8L1576.4 1156.7L1576.8 1154.5L1577.2 1160.8L1577.6 1150.6L1578.0 1148.9
L1578.3 1139.6L1578.7 1157.4L1579.1 1139.6L1579.5 1152.0L1579.8 1139.6L1580.2 1157.6L1580.6 1139.6L1581.0 1156.5L1581.4 1139.6L1581.7 1147.3L1582.1 1163.5L1582.5 1147.9
L1582.9 1157.6L1583.2 1155.2L1583.6 1142.2L1584.0 1166.5L1584.4 1169.9L1584.7 1159.7L1585.1 1175.7L1585.5 1168.5L1585.9 1171.0L1586.3 1182.1L1586.6 1181.9L1587.0 1205.4
L1587.4 1184.5L1587.8 1203.2L1588.1 1208.3L1588.5 1189.7L1588.9 1192.9L1589.3 1211.0L1589.7 1204.9L1590.0 1212.5L1590.4 1219.2L1590.8 1209.7L1591.2 1206.0L1591.5 1195.5
L1591.9 1217.0L1592.3 1210.1L1592.7 1219.5L1593.0 1219.7L1593.4 1209.0L1593.8 1231.0L1594.2 1226.9L1594.6 1225.5L1594.9 1211.5L1595.3 1216.9L1595.7 1215.9L1596.1 1216.8
L1596.4 1211.9L1596.8 1222.7L1597.2 1221.3L1597.6 1222.2L1598.0 1216.2L1598.3 1228.6L1598.7 1221.0L1599.1 1200.8L1599.5 1215.3L1599.8 1219.3L1600.2 1226.4L1600.6 1217.6
L1601.0 1218.0L1601.4 1215.1L1601.7 1224.3L1602.1 1216.6L1602.5 1215.5L1602.9 1214.6L1603.2 1223.5L1603.6 1216.0L1604.0 1208.1L1604.4 1224.0L1604.7 1214.9L1605.1 1222.2
L1605.5 1222.3L1605.9 1228.0L1606.3 1226.9L1606.6 1215.6L1607.0 1218.4L1607.4 1210.6L1607.8 1231.1L1608.1 1222.4L1608.5 1229.0L1608.9 1217.0L1609.3 1204.9L1609.7 1229.7
L1610.0 1219.6L1610.4 1219.8L1610.8 1219.2L1611.2 1223.2L1611.5 1222.3L1611.9 1207.4L1612.3 1226.0L1612.7 1214.6L1613.0 1214.9L1613.4 1230.1L1613.8 1224.4L1614.2 1215.5
L1614.6 1204.8L1614.9 1218.8L1615.3 1221.4L1615.7 1217.0L1616.1 1208.7L1616.4 1211.8L1616.8 1208.5L1617.2 1218.7L1617.6 1222.9L1618.0 1224.3L1618.3 1211.9L1618.7 1218.7
L1619.1 1220.9L1619.5 1213.4L1619.8 1216.0L1620.2 1231.9L1620.6 1218.5L1621.0 1223.4L1621.4 1214.2L1621.7 1217.7L1622.1 1205.6L1622.5 1217.7L1622.9 1226.4L1623.2 1233.0
L1623.6 1227.0L1624.0 1223.7L1624.4 1219.6L1624.7 1215.4L1625.1 1218.8L1625.5 1224.5L1625.9 1215.2L1626.3 1227.3L1626.6 1214.6L1627.0 1209.5L1627.4 1215.1L1627.8 1211.0
L1628.1 1213.3L1628.5 1230.6L1628.9 1221.9L1629.3 1225.0L1629.7 1231.5L1630.0 1232.4L1630.4 1220.8L1630.8 1233.3L1631.2 1227.1L1631.5 1224.6L1631.9 1227.6L1632.3 1215.2
L1632.7 1219.4L1633.1 1223.9L1633.4 1228.7L1633.8 1222.1L1634.2 1223.7L1634.6 1230.9L1634.9 1233.8L1635.3 1229.4L1635.7 1232.6L1636.1 1221.2L1636.4 1221.7L1636.8 1225.8
L1637.2 1221.4L1637.6 1219.9L1638.0 1234.3L1638.3 1221.6L1638.7 1216.2L1639.1 1225.9L1639.5 1234.8L1639.8 1222.7L1640.2 1230.3L1640.6 1218.8L1641.0 1218.2L1641.4 1216.6
L1641.7 1220.2L1642.1 1233.5L1642.5 1212.8L1642.9 1231.8L1643.2 1213.5L1643.6 1218.6L1644.0 1225.8L1644.4 1224.3L1644.7 1221.7L1645.1 1208.2L1645.5 1222.0L1645.9 1212.3
L1646.3 1237.0L1646.6 1217.6L1647.0 1220.3L1647.4 1210.9L1647.8 1215.5L1648.1 1209.7L1648.5 1225.4L1648.9 1216.7L1649.3 1222.3L1649.7 1213.6L1650.0 1214.7L1650.4 1227.1
L1650.8 1211.3L1651.2 1205.4L1651.5 1220.7L1651.9 1209.8L1652.3 1214.6L1652.7 1224.0L1653.1 1211.8L1653.4 1223.5L1653.8 1212.5L1654.2 1227.6L1654.6 1226.4L1654.9 1213.6
L1655.3 1215.3L1655.7 1210.8L1656.1 1217.9L1656.4 1224.5L1656.8 1206.0L1657.2 1222.5L1657.6 1206.5L1658.0 1209.6L1658.3 1202.9L1658.7 1230.3L1659.1 1215.5L1659.5 1216.6
L1659.8 1209.9L1660.2 1222.0L1660.6 1199.0L1661.0 1213.8L1661.4 1228.8L1661.7 1209.7L1662.1 1211.9L1662.5 1216.0L1662.9 1204.5L1663.2 1209.7L1663.6 1215.8L1664.0 1209.3
L1664.4 1209.7L1664.8 1203.5L1665.1 1207.5L1665.5 1204.7L1665.9 1214.3L1666.3 1207.9L1666.6 1199.7L1667.0 1182.1L1667.4 1205.2L1667.8 1204.6L1668.1 1190.7L1668.5 1181.2
L1668.9 1186.4L1669.3 1201.1L1669.7 1184.2L1670.0 1187.6L1670.4 1191.6L1670.8 1198.3L1671.2 1187.2L1671.5 1185.4L1671.9 1180.7L1672.3 1197.8L1672.7 1192.6L1673.1 1182.5
L1673.4 1173.1L1673.8 1176.5L1674.2 1188.3L1674.6 1178.4L1674.9 1192.6L1675.3 1189.6L1675.7 1190.6L1676.1 1195.1L1676.4 1195.7L1676.8 1187.3L1677.2 1193.2L1677.6 1214.9
L1678.0 1190.2L1678.3 1197.2L1678.7 1210.1L1679.1 1202.1L1679.5 1198.3L1679.8 1195.8L1680.2 1210.6L1680.6 1215.2L1681.0 1219.0L1681.4 1210.2L1681.7 1218.2L1682.1 1203.8
L1682.5 1213.0L1682.9 1207.1L1683.2 1213.3L1683.6 1217.4L1684.0 1219.7L1684.4 1204.8L1684.8 1221.2L1685.1 1208.6L1685.5 1204.6L1685.9 1210.8L1686.3 1201.4L1686.6 1212.0
L1687.0 1214.1L1687.4 1210.5L1687.8 1215.9L1688.1 1209.7L1688.5 1212.0L1688.9 1201.6L1689.3 1212.3L1689.7 1205.8L1690.0 1208.7L1690.4 1211.3L1690.8 1213.4L1691.2 1200.1
L1691.5 1200.7L1691.9 1209.8L1692.3 1215.4L1692.7 1214.6L1693.1 1218.5L1693.4 1221.4L1693.8 1215.6L1694.2 1211.9L1694.6 1204.5L1694.9 1205.2L1695.3 1208.6L1695.7 1213.9
L1696.1 1213.6L1696.5 1212.0L1696.8 1210.9L1697.2 1216.6L1697.6 1213.5L1698.0 1214.2L1698.3 1214.2L1698.7 1208.0L1699.1 1204.5L1699.5 1215.6L1699.8 1215.0L1700.2 1210.4
L1700.6 1209.0L1701.0 1228.5L1701.4 1206.6L1701.7 1210.5L1702.1 1214.0L1702.5 1203.8L1702.9 1213.0L1703.2 1225.2L1703.6 1219.0L1704.0 1216.9L1704.4 1216.7L1704.8 1213.3
L1705.1 1219.5L1705.5 1211.5L1705.9 1209.7L1706.3 1213.5L1706.6 1219.4L1707.0 1215.4L1707.4 1217.9L1707.8 1198.7L1708.1 1221.9L1708.5 1230.2L1708.9 1223.1L1709.3 1211.4
L1709.7 1207.7L1710.0 1215.9L1710.4 1207.0L1710.8 1219.4L1711.2 1210.6L1711.5 1221.4L1711.9 1224.4L1712.3 1200.4L1712.7 1217.1L1713.1 1210.4L1713.4 1205.8L1713.8 1212.0
L1714.2 1215.5L1714.6 1224.9L1714.9 1208.1L1715.3 1226.6L1715.7 1234.0L1716.1 1225.2L1716.5 1225.7L1716.8 1222.8L1717.2 1215.8L1717.6 1228.0L1718.0 1227.5L1718.3 1230.3
L1718.7 1242.9L1719.1 1230.9L1719.5 1229.0L1719.8 1236.7L1720.2 1217.6L1720.6 1219.1L1721.0 1224.3L1721.4 1222.6L1721.7 1231.6L1722.1 1225.1L1722.5 1238.7L1722.9 1237.4
L1723.2 1232.6L1723.6 1225.1L1724.0 1231.8L1724.4 1233.2L1724.8 1221.0L1725.1 1230.3L1725.5 1232.8L1725.9 1229.7L1726.3 1238.6L1726.6 1236.4L1727.0 1223.2L1727.4 1229.4
L1727.8 1223.3L1728.2 1232.6L1728.5 1223.2L1728.9 1235.0L1729.3 1231.5L1729.7 1235.4L1730.0 1228.2L1730.4 1219.8L1730.8 1240.7L1731.2 1228.2L1731.5 1238.3L1731.9 1232.2
L1732.3 1233.9L1732.7 1241.4L1733.1 1231.8L1733.4 1238.7L1733.8 1220.1L1734.2 1235.4L1734.6 1228.2L1734.9 1228.9L1735.3 1229.9L1735.7 1232.1L1736.1 1240.6L1736.5 1217.9
L1736.8 1230.2L1737.2 1225.3L1737.6 1237.5L1738.0 1227.2L1738.3 1232.9L1738.7 1227.4L1739.1 1234.3L1739.5 1236.5L1739.8 1227.4L1740.2 1230.3L1740.6 1220.8L1741.0 1231.9
L1741.4 1235.5L1741.7 1226.4L1742.1 1237.1L1742.5 1216.5L1742.9 1217.9L1743.2 1220.8L1743.6 1226.6L1744.0 1229.8L1744.4 1229.1L1744.8 1229.2L1745.1 1234.2L1745.5 1226.4
L1745.9 1221.2L1746.3 1221.3L1746.6 1243.0L1747.0 1213.9L1747.4 1228.0L1747.8 1238.5L1748.2 1232.1L1748.5 1223.4L1748.9 1228.8L1749.3 1234.3L1749.7 1236.4L1750.0 1222.6
L1750.4 1233.3L1750.8 1229.9L1751.2 1235.4L1751.5 1237.1L1751.9 1225.7L1752.3 1218.3L1752.7 1230.3L1753.1 1239.2L1753.4 1231.9L1753.8 1228.8L1754.2 1243.0L1754.6 1220.2
L1754.9 1232.9L1755.3 1223.0L1755.7 1226.9L1756.1 1227.0L1756.5 1236.2L1756.8 1219.7L1757.2 1222.1L1757.6 1214.7L1758.0 1228.3L1758.3 1221.7L1758.7 1227.2L1759.1 1216.9
L1759.5 1221.3L1759.9 1230.4L1760.2 1221.8L1760.6 1226.9L1761.0 1225.8L1761.4 1219.5L1761.7 1210.8L1762.1 1227.8L1762.5 1221.8L1762.9 1226.9L1763.2 1205.7L1763.6 1207.5
L1764.0 1203.4L1764.4 1211.5L1764.8 1224.1L1765.1 1220.1L1765.5 1215.1L1765.9 1215.6L1766.3 1219.5L1766.6 1211.3L1767.0 1215.8L1767.4 1213.6L1767.8 1196.5L1768.2 1209.3
L1768.5 1221.8L1768.9 1209.2L1769.3 1211.1L1769.7 1207.9L1770.0 1209.0L1770.4 1220.8L1770.8 1211.1L1771.2 1206.0L1771.5 1191.4L1771.9 1210.0L1772.3 1200.5L1772.7 1201.9
L1773.1 1220.9L1773.4 1220.8L1773.8 1202.7L1774.2 1222.6L1774.6 1220.3L1774.9 1212.1L1775.3 1223.1L1775.7 1207.0L1776.1 1210.4L1776.5 1209.1L1776.8 1211.7L1777.2 1225.8
L1777.6 1210.8L1778.0 1212.3L1778.3 1214.0L1778.7 1222.2L1779.1 1218.8L1779.5 1227.3L1779.9 1216.9L1780.2 1213.2L1780.6 1218.9L1781.0 1222.8L1781.4 1216.6L1781.7 1225.1
L1782.1 1235.7L1782.5 1219.8L1782.9 1224.3L1783.2 1233.3L1783.6 1220.2L1784.0 1219.1L1784.4 1217.7L1784.8 1227.9L1785.1 1228.9L1785.5 1224.7L1785.9 1226.1L1786.3 1234.5
L1786.6 1231.9L1787.0 1217.1L1787.4 1226.4L1787.8 1227.3L1788.2 1231.4L1788.5 1225.3L1788.9 1222.5L1789.3 1223.8L1789.7 1215.1L1790.0 1226.7L1790.4 1222.9L1790.8 1229.9
L1791.2 1220.0L1791.6 1223.8L1791.9 1220.2L1792.3 1219.6L1792.7 1231.2L1793.1 1223.4L1793.4 1229.4L1793.8 1219.0L1794.2 1227.0L1794.6 1215.1L1794.9 1223.1L1795.3 1222.8
L1795.7 1230.0L1796.1 1227.2L1796.5 1224.8L1796.8 1231.5L1797.2 1227.1L1797.6 1229.4L1798.0 1230.9L1798.3 1225.3L1798.7 1223.8L1799.1 1227.9L1799.5 1222.9L1799.9 1228.3
L1800.2 1233.1L1800.6 1231.4L1801.0 1223.3L1801.4 1217.4L1801.7 1225.6L1802.1 1225.3L1802.5 1233.5L1802.9 1223.9L1803.2 1225.2L1803.6 1231.5L1804.0 1223.8L1804.4 1226.0
L1804.8 1238.5L1805.1 1237.2L1805.5 1231.8L1805.9 1229.6L1806.3 1221.8L1806.6 1232.0L1807.0 1228.9L1807.4 1230.2L1807.8 1225.6L1808.2 1229.1L1808.5 1228.2L1808.9 1231.6
L1809.3 1239.0L1809.7 1232.3L1810.0 1219.5L1810.4 1224.1L1810.8 1220.4L1811.2 1225.6L1811.6 1234.3L1811.9 1233.4L1812.3 1227.2L1812.7 1232.8L1813.1 1226.3L1813.4 1222.1
L1813.8 1222.2L1814.2 1225.7L1814.6 1240.2L1814.9 1222.6L1815.3 1239.1L1815.7 1239.7L1816.1 1230.0L1816.5 1230.9L1816.8 1227.3L1817.2 1231.0L1817.6 1235.4L1818.0 1231.2
L1818.3 1237.5L1818.7 1238.7L1819.1 1233.4L1819.5 1233.3L1819.9 1230.8L1820.2 1233.4L1820.6 1224.1L1821.0 1233.8L1821.4 1232.5L1821.7 1225.7L1822.1 1244.9L1822.5 1225.0
L1822.9 1225.6L1823.3 1232.9L1823.6 1218.8L1824.0 1226.1L1824.4 1221.5L1824.8 1225.0L1825.1 1230.3L1825.5 1233.2L1825.9 1238.2L1826.3 1236.3L1826.6 1238.7L1827.0 1234.9
L1827.4 1228.2L1827.8 1238.3L1828.2 1228.0L1828.5 1227.2L1828.9 1240.9L1829.3 1236.1L1829.7 1232.5L1830.0 1235.9L1830.4 1236.6L1830.8 1222.3L1831.2 1230.3L1831.6 1223.3
L1831.9 1231.5L1832.3 1226.4L1832.7 1239.3L1833.1 1233.8L1833.4 1225.2L1833.8 1230.1L1834.2 1222.4L1834.6 1230.3L1834.9 1233.4L1835.3 1231.4L1835.7 1217.2L1836.1 1227.3
L1836.5 1232.6L1836.8 1231.2L1837.2 1236.5L1837.6 1220.5L1838.0 1232.1L1838.3 1224.3L1838.7 1229.6L1839.1 1230.8L1839.5 1232.5L1839.9 1224.1L1840.2 1228.9L1840.6 1219.8
L1841.0 1218.1L1841.4 1230.8L1841.7 1226.6L1842.1 1216.1L1842.5 1221.0L1842.9 1226.5L1843.3 1236.4L1843.6 1232.9L1844.0 1231.0L1844.4 1213.7L1844.8 1224.6L1845.1 1228.2
L1845.5 1227.4L1845.9 1227.2L1846.3 1222.6L1846.6 1235.6L1847.0 1233.5L1847.4 1222.6L1847.8 1216.3L1848.2 1236.4L1848.5 1218.5L1848.9 1230.0L1849.3 1234.4L1849.7 1214.6
L1850.0 1222.7L1850.4 1217.9L1850.8 1223.4L1851.2 1221.7L1851.6 1232.5L1851.9 1222.7L1852.3 1218.1L1852.7 1225.5L1853.1 1215.3L1853.4 1214.2L1853.8 1232.0L1854.2 1210.0
L1854.6 1211.8L1855.0 1215.1L1855.3 1206.7L1855.7 1198.7L1856.1 1220.7L1856.5 1207.0L1856.8 1208.2L1857.2 1208.6L1857.6 1203.4L1858.0 1201.8L1858.3 1209.7L1858.7 1224.9
L1859.1 1211.7L1859.5 1210.6L1859.9 1192.8L1860.2 1202.5L1860.6 1192.6L1861.0 1206.1L1861.4 1197.4L1861.7 1198.3L1862.1 1196.3L1862.5 1191.4L1862.9 1183.2L1863.3 1198.9
L1863.6 1182.7L1864.0 1183.8L1864.4 1190.4L1864.8 1186.9L1865.1 1194.6L1865.5 1200.6L1865.9 1194.6L1866.3 1194.3L1866.6 1193.0L1867.0 1199.8L1867.4 1178.4L1867.8 1196.2
L1868.2 1186.1L1868.5 1183.9L1868.9 1193.9L1869.3 1191.0L1869.7 1198.9L1870.0 1203.2L1870.4 1176.3L1870.8 1194.2L1871.2 1210.4L1871.6 1202.0L1871.9 1206.7L1872.3 1196.2
L1872.7 1184.2L1873.1 1186.7L1873.4 1201.1L1873.8 1203.0L1874.2 1189.5L1874.6 1192.7L1875.0 1196.3L1875.3 1179.8L1875.7 1190.1L1876.1 1204.7L1876.5 1208.2L1876.8 1189.0
L1877.2 1203.4L1877.6 1183.4L1878.0 1179.9L1878.3 1167.1L1878.7 1191.8L1879.1 1179.8L1879.5 1200.9L1879.9 1183.3L1880.2 1181.0L1880.6 1163.4L1881.0 1190.0L1881.4 1173.2
L1881.7 1173.6L1882.1 1155.1L1882.5 1180.2L1882.9 1179.6L1883.3 1164.7L1883.6 1169.8L1884.0 1171.7L1884.4 1176.2L1884.8 1168.4L1885.1 1182.9L1885.5 1166.0L1885.9 1163.7
L1886.3 1166.0L1886.7 1155.1L1887.0 1166.1L1887.4 1182.8L1887.8 1178.3L1888.2 1171.3L1888.5 1182.5L1888.9 1165.1L1889.3 1180.8L1889.7 1188.8L1890.0 1191.5L1890.4 1180.8
L1890.8 1195.4L1891.2 1204.0L1891.6 1186.6L1891.9 1196.8L1892.3 1179.6L1892.7 1177.4L1893.1 1198.6L1893.4 1195.0L1893.8 1197.1L1894.2 1191.9L1894.6 1195.0L1895.0 1204.3
L1895.3 1212.0L1895.7 1197.9L1896.1 1187.7L1896.5 1210.7L1896.8 1206.2L1897.2 1207.3L1897.6 1204.1L1898.0 1220.7L1898.3 1204.2L1898.7 1207.9L1899.1 1190.4L1899.5 1200.2
L1899.9 1199.7L1900.2 1204.9L1900.6 1208.0L1901.0 1200.0L1901.4 1218.8L1901.7 1198.1L1902.1 1202.9L1902.5 1208.2L1902.9 1197.4L1903.3 1211.1L1903.6 1211.7L1904.0 1205.0
L1904.4 1221.5L1904.8 1208.1L1905.1 1209.7L1905.5 1200.7L1905.9 1195.6L1906.3 1203.4L1906.7 1205.9L1907.0 1205.0L1907.4 1214.2L1907.8 1191.1L1908.2 1200.5L1908.5 1195.5
L1908.9 1218.9L1909.3 1205.1L1909.7 1205.6L1910.0 1201.5L1910.4 1216.3L1910.8 1206.8L1911.2 1211.6L1911.6 1195.3L1911.9 1218.9L1912.3 1213.4L1912.7 1214.7L1913.1 1219.8
L1913.4 1209.6L1913.8 1209.9L1914.2 1216.5L1914.6 1214.6L1915.0 1209.9L1915.3 1212.1L1915.7 1208.3L1916.1 1217.3L1916.5 1219.1L1916.8 1212.5L1917.2 1226.2L1917.6 1201.7
L1918.0 1211.3L1918.4 1225.4L1918.7 1210.2L1919.1 1201.9L1919.5 1223.6L1919.9 1217.6L1920.2 1205.3L1920.6 1219.5L1921.0 1206.8L1921.4 1204.7L1921.7 1213.3L1922.1 1211.1
L1922.5 1206.8L1922.9 1212.1L1923.3 1207.7L1923.6 1215.4L1924.0 1214.9L1924.4 1220.5L1924.8 1212.0L1925.1 1205.9L1925.5 1206.0L1925.9 1213.7L1926.3 1226.4L1926.7 1221.6
L1927.0 1211.1L1927.4 1222.4L1927.8 1207.5L1928.2 1222.9L1928.5 1213.1L1928.9 1221.3L1929.3 1220.3L1929.7 1213.9L1930.0 1218.2L1930.4 1208.4L1930.8 1215.5L1931.2 1223.7
L1931.6 1245.0L1931.9 1221.0L1932.3 1216.7L1932.7 1208.9L1933.1 1223.6L1933.4 1204.4L1933.8 1210.5L1934.2 1218.7L1934.6 1207.6L1935.0 1227.1L1935.3 1223.9L1935.7 1212.2
L1936.1 1212.3L1936.5 1206.9L1936.8 1206.4L1937.2 1219.4L1937.6 1220.7L1938.0 1218.8L1938.4 1218.3L1938.7 1212.5L1939.1 1219.0L1939.5 1206.1L1939.9 1216.6L1940.2 1226.9
L1940.6 1225.9L1941.0 1213.4L1941.4 1214.3L1941.7 1226.4L1942.1 1229.4L1942.5 1206.3L1942.9 1213.9L1943.3 1218.7L1943.6 1225.7L1944.0 1211.4L1944.4 1221.9L1944.8 1215.4
L1945.1 1234.3L1945.5 1220.8L1945.9 1217.0L1946.3 1215.8L1946.7 1225.7L1947.0 1223.2L1947.4 1211.1L1947.8 1220.4L1948.2 1209.8L1948.5 1214.1L1948.9 1210.6L1949.3 1210.6
L1949.7 1215.2L1950.1 1213.5L1950.4 1224.1L1950.8 1226.2L1951.2 1219.3L1951.6 1213.5L1951.9 1227.0L1952.3 1207.9L1952.7 1208.8L1953.1 1227.2L1953.4 1227.0L1953.8 1229.4
L1954.2 1221.7L1954.6 1214.9L1955.0 1220.2L1955.3 1227.8L1955.7 1219.1L1956.1 1219.9L1956.5 1215.8L1956.8 1217.9L1957.2 1231.7L1957.6 1229.7L1958.0 1219.7L1958.4 1220.9
L1958.7 1224.9L1959.1 1232.7L1959.5 1222.3L1959.9 1229.3L1960.2 1217.2L1960.6 1223.4L1961.0 1234.5L1961.4 1237.9L1961.7 1225.1L1962.1 1227.7L1962.5 1237.8L1962.9 1230.2
L1963.3 1229.3L1963.6 1236.0L1964.0 1234.0L1964.4 1239.8L1964.8 1237.8L1965.1 1229.1L1965.5 1232.0L1965.9 1232.3L1966.3 1224.1L1966.7 1226.6L1967.0 1238.9L1967.4 1222.7
L1967.8 1239.0L1968.2 1234.5L1968.5 1231.8L1968.9 1236.1L1969.3 1235.7L1969.7 1240.4L1970.1 1230.2L1970.4 1231.3L1970.8 1231.2L1971.2 1244.7L1971.6 1238.7L1971.9 1226.9
L1972.3 1230.6L1972.7 1228.3L1973.1 1232.8L1973.4 1234.1L1973.8 1247.3L1974.2 1221.2L1974.6 1239.3L1975.0 1235.5L1975.3 1228.3L1975.7 1231.8L1976.1 1229.6L1976.5 1233.1
L1976.8 1239.1L1977.2 1223.1L1977.6 1241.1L1978.0 1230.4L1978.4 1242.3L1978.7 1235.4L1979.1 1240.6L1979.5 1236.3L1979.9 1239.6L1980.2 1233.1L1980.6 1227.5L1981.0 1237.0
L1981.4 1237.3L1981.8 1246.1L1982.1 1220.1L1982.5 1231.5L1982.9 1239.5L1983.3 1224.8L1983.6 1231.3L1984.0 1246.2L1984.4 1241.8L1984.8 1227.2L1985.1 1241.8L1985.5 1240.3
L1985.9 1237.7L1986.3 1235.2L1986.7 1234.3L1987.0 1227.3L1987.4 1229.5L1987.8 1237.4L1988.2 1233.7L1988.5 1244.5L1988.9 1230.7L1989.3 1217.6L1989.7 1230.7L1990.1 1234.6
L1990.4 1235.2L1990.8 1233.2L1991.2 1227.6L1991.6 1242.3L1991.9 1228.6L1992.3 1237.2L1992.7 1230.9L1993.1 1225.0L1993.4 1241.5L1993.8 1216.6L1994.2 1227.0L1994.6 1235.0
L1995.0 1229.9L1995.3 1236.8L1995.7 1231.3L1996.1 1228.9L1996.5 1245.5L1996.8 1230.2L1997.2 1230.4L1997.6 1224.3L1998.0 1226.3L1998.4 1235.1L1998.7 1234.4L1999.1 1230.7
L1999.5 1226.0L1999.9 1234.8L2000.2 1219.2L2000.6 1227.9L2001.0 1228.3L2001.4 1224.3L2001.8 1230.6L2002.1 1225.2L2002.5 1224.1L2002.9 1240.9L2003.3 1233.9L2003.6 1236.8
L2004.0 1229.2L2004.4 1235.0L2004.8 1233.8L2005.1 1236.5L2005.5 1243.9L2005.9 1226.9L2006.3 1230.0L2006.7 1227.9L2007.0 1205.2L2007.4 1218.9L2007.8 1228.1L2008.2 1232.0
L2008.5 1224.0L2008.9 1235.2L2009.3 1236.1L2009.7 1224.8L2010.1 1236.8L2010.4 1238.9L2010.8 1230.4L2011.2 1220.8L2011.6 1236.8L2011.9 1226.0L2012.3 1224.5L2012.7 1227.7
L2013.1 1223.3L2013.5 1233.9L2013.8 1231.9L2014.2 1234.7L2014.6 1230.4L2015.0 1221.3L2015.3 1225.4L2015.7 1232.2L2016.1 1223.6L2016.5 1245.6L2016.8 1224.6L2017.2 1222.2
L2017.6 1233.7L2018.0 1230.9L2018.4 1225.7L2018.7 1224.3L2019.1 1228.6L2019.5 1231.3L2019.9 1230.7L2020.2 1223.6L2020.6 1228.4L2021.0 1231.1L2021.4 1230.5L2021.8 1204.7
L2022.1 1219.3L2022.5 1220.0L2022.9 1223.6L2023.3 1226.2L2023.6 1231.1L2024.0 1229.0L2024.4 1224.0L2024.8 1224.9L2025.1 1236.5L2025.5 1220.6L2025.9 1226.6L2026.3 1235.1
L2026.7 1226.8L2027.0 1210.8L2027.4 1227.0L2027.8 1221.8L2028.2 1223.7L2028.5 1231.5L2028.9 1227.5L2029.3 1222.6L2029.7 1230.4L2030.1 1227.4L2030.4 1225.3L2030.8 1226.7
L2031.2 1226.5L2031.6 1222.7L2031.9 1222.1L2032.3 1225.5L2032.7 1219.1L2033.1 1217.3L2033.5 1234.5L2033.8 1224.5L2034.2 1226.1L2034.6 1225.6L2035.0 1226.9L2035.3 1227.1
L2035.7 1227.6L2036.1 1222.1L2036.5 1233.7L2036.8 1223.2L2037.2 1234.7L2037.6 1215.5L2038.0 1221.3L2038.4 1234.8L2038.7 1227.5L2039.1 1224.2L2039.5 1231.1L2039.9 1221.9
L2040.2 1229.2L2040.6 1214.3L2041.0 1225.7L2041.4 1224.4L2041.8 1232.0L2042.1 1234.1L2042.5 1222.7L2042.9 1238.7L2043.3 1224.2L2043.6 1214.4L2044.0 1212.1L2044.4 1237.6
L2044.8 1226.7L2045.2 1222.8L2045.5 1221.9L2045.9 1219.4L2046.3 1235.3L2046.7 1225.6L2047.0 1237.8L2047.4 1224.3L2047.8 1209.7L2048.2 1230.8L2048.5 1222.4L2048.9 1223.0
L2049.3 1234.9L2049.7 1222.4L2050.1 1231.7L2050.4 1223.6L2050.8 1218.4L2051.2 1226.6L2051.6 1219.0L2051.9 1231.1L2052.3 1229.1L2052.7 1222.9L2053.1 1226.4L2053.5 1225.9
L2053.8 1220.0L2054.2 1227.7L2054.6 1219.9L2055.0 1225.5L2055.3 1214.5L2055.7 1221.5L2056.1 1223.5L2056.5 1215.0L2056.8 1217.4L2057.2 1216.4L2057.6 1224.9L2058.0 1214.7
L2058.4 1222.5L2058.7 1229.8L2059.1 1221.5L2059.5 1207.7L2059.9 1219.5L2060.2 1225.7L2060.6 1216.3L2061.0 1225.8"/>
</g>
<rect x="179" y="1268" width="1882" height="3" fill="#000" shape-rendering="crispEdges"/>
<rect x="174.0" y="57.0" width="1887.0" height="1387.0" fill="none" stroke="#000" stroke-width="6.0" shape-rendering="crispEdges"/>
<g fill="#000" shape-rendering="crispEdges">
<rect x="171" y="1444" width="6" height="27"/>
<rect x="289" y="1444" width="6" height="13"/>
<rect x="407" y="1444" width="6" height="27"/>
<rect x="525" y="1444" width="6" height="13"/>
<rect x="643" y="1444" width="6" height="27"/>
<rect x="761" y="1444" width="6" height="13"/>
<rect x="879" y="1444" width="6" height="27"/>
<rect x="997" y="1444" width="6" height="13"/>
<rect x="1114" y="1444" width="6" height="27"/>
<rect x="1232" y="1444" width="6" height="13"/>
<rect x="1350" y="1444" width="6" height="27"/>
<rect x="1468" y="1444" width="6" height="13"/>
<rect x="1586" y="1444" width="6" height="27"/>
<rect x="1704" y="1444" width="6" height="13"/>
<rect x="1822" y="1444" width="6" height="27"/>
<rect x="1940" y="1444" width="6" height="13"/>
<rect x="2058" y="1444" width="6" height="27"/>
</g>
<g fill="#ff0000" shape-rendering="crispEdges">
<rect x="690" y="1307" width="4" height="138"/>
<rect x="758" y="1308" width="4" height="137"/>
<rect x="798" y="1281" width="4" height="164"/>
<rect x="1068" y="1314" width="4" height="131"/>
<rect x="1280" y="1314" width="4" height="131"/>
<rect x="1435" y="1314" width="4" height="131"/>
<rect x="1512" y="1320" width="4" height="125"/>
<rect x="1553" y="1314" width="4" height="131"/>
<rect x="1577" y="1316" width="4" height="129"/>
<rect x="1671" y="1320" width="4" height="125"/>
<rect x="1766" y="1320" width="4" height="125"/>
<rect x="1880" y="1320" width="4" height="125"/>
</g>
<g fill="#0000ff" shape-rendering="crispEdges">
<rect x="351" y="1321" width="4" height="124"/>
<rect x="505" y="1317" width="4" height="128"/>
<rect x="514" y="1319" width="4" height="126"/>
<rect x="602" y="1284" width="4" height="161"/>
<rect x="680" y="1298" width="4" height="147"/>
<rect x="744" y="1316" width="4" height="129"/>
<rect x="750" y="1319" width="4" height="126"/>
<rect x="770" y="1319" width="4" height="126"/>
<rect x="787" y="1322" width="4" height="123"/>
<rect x="848" y="1321" width="4" height="124"/>
<rect x="866" y="1323" width="4" height="122"/>
<rect x="880" y="1322" width="4" height="123"/>
<rect x="897" y="1318" width="4" height="127"/>
<rect x="911" y="1322" width="4" height="123"/>
<rect x="996" y="1321" width="4" height="124"/>
<rect x="1011" y="1321" width="4" height="124"/>
<rect x="1100" y="1317" width="4" height="128"/>
<rect x="1118" y="1320" width="4" height="125"/>
<rect x="1130" y="1319" width="4" height="126"/>
<rect x="1146" y="1321" width="4" height="124"/>
<rect x="1214" y="1318" width="4" height="127"/>
<rect x="1244" y="1318" width="4" height="127"/>
<rect x="1258" y="1321" width="4" height="124"/>
<rect x="1287" y="1321" width="4" height="124"/>
<rect x="1302" y="1322" width="4" height="123"/>
<rect x="1312" y="1322" width="4" height="123"/>
<rect x="1351" y="1320" width="4" height="125"/>
<rect x="1385" y="1322" width="4" height="123"/>
<rect x="1399" y="1320" width="4" height="125"/>
<rect x="1420" y="1321" width="4" height="124"/>
<rect x="1453" y="1322" width="4" height="123"/>
<rect x="1486" y="1322" width="4" height="123"/>
<rect x="1567" y="1323" width="4" height="122"/>
<rect x="1580" y="1323" width="4" height="122"/>
<rect x="1619" y="1322" width="4" height="123"/>
<rect x="1636" y="1323" width="4" height="122"/>
<rect x="1653" y="1323" width="4" height="122"/>
<rect x="1699" y="1323" width="4" height="122"/>
<rect x="1712" y="1323" width="4" height="122"/>
</g>
<g fill="#00ff00" shape-rendering="crispEdges">
<rect x="649" y="1286" width="4" height="159"/>
<rect x="752" y="1322" width="4" height="123"/>
<rect x="769" y="1321" width="4" height="124"/>
<rect x="950" y="1325" width="4" height="120"/>
<rect x="1121" y="1313" width="4" height="132"/>
<rect x="1133" y="1319" width="4" height="126"/>
<rect x="1208" y="1326" width="4" height="119"/>
<rect x="1334" y="1321" width="4" height="124"/>
<rect x="1356" y="1318" width="4" height="127"/>
<rect x="1419" y="1323" width="4" height="122"/>
<rect x="1555" y="1326" width="4" height="119"/>
<rect x="1656" y="1325" width="4" height="120"/>
<rect x="1696" y="1324" width="4" height="121"/>
<rect x="1784" y="1326" width="4" height="119"/>
<rect x="1864" y="1323" width="4" height="122"/>
<rect x="1883" y="1324" width="4" height="121"/>
<rect x="1910" y="1324" width="4" height="121"/>
<rect x="1938" y="1325" width="4" height="120"/>
<rect x="1948" y="1325" width="4" height="120"/>
</g>
<g class="ticklab" font-size="52">
<text transform="translate(178.1 1524.9) scale(1 1.03)" text-anchor="middle">10</text>
<text transform="translate(412.4 1524.9) scale(1 1.03)" text-anchor="middle">20</text>
<text transform="translate(648.2 1524.9) scale(1 1.03)" text-anchor="middle">30</text>
<text transform="translate(884.1 1524.9) scale(1 1.03)" text-anchor="middle">40</text>
<text transform="translate(1120.0 1524.9) scale(1 1.03)" text-anchor="middle">50</text>
<text transform="translate(1355.9 1524.9) scale(1 1.03)" text-anchor="middle">60</text>
<text transform="translate(1591.8 1524.9) scale(1 1.03)" text-anchor="middle">70</text>
<text transform="translate(1827.6 1524.9) scale(1 1.03)" text-anchor="middle">80</text>
<text transform="translate(2063.5 1524.9) scale(1 1.03)" text-anchor="middle">90</text>
</g>
<g class="xtitle" font-size="58.4">
<text transform="translate(963.8 1581.4) scale(1 1.02)">2</text>
<text class="sym" x="1014" y="1580.8" font-size="56" textLength="32" lengthAdjust="spacingAndGlyphs">θ</text>
<text class="sym" x="1060.2" y="1581.4" font-size="57.5">(</text>
<text transform="translate(1078.7 1581.4) scale(1 1.02)">degree</text>
<text class="sym" x="1259.7" y="1581.4" font-size="57.5">)</text>
</g>
<text class="ytitle" font-size="58.2" transform="translate(115.8 989.9) rotate(-90) scale(1 1.055)">Intensity (a.u.)</text>
<rect x="1274.6" y="111" width="89.6" height="2.4" fill="#000"/>
<g class="legend" font-size="39.3">
<text transform="translate(1374.2 125) scale(1 1.03)" font-size="39.5">ZWB_200V-50Hz-E1S</text>
<text transform="translate(1375.0 172.9) scale(1 1.03)" font-size="39.1" fill="#00ff00">t-ZrO2 (79-1769)</text>
<text transform="translate(1373.6 221.1) scale(1 1.03)" fill="#0000ff">m-ZrO2 (13-0307)</text>
<text transform="translate(1374.4 269) scale(1 1.03)" font-size="39.05" fill="#ff0000">Zr (05-0665)</text>
</g>
</svg>
</body>
</html>
